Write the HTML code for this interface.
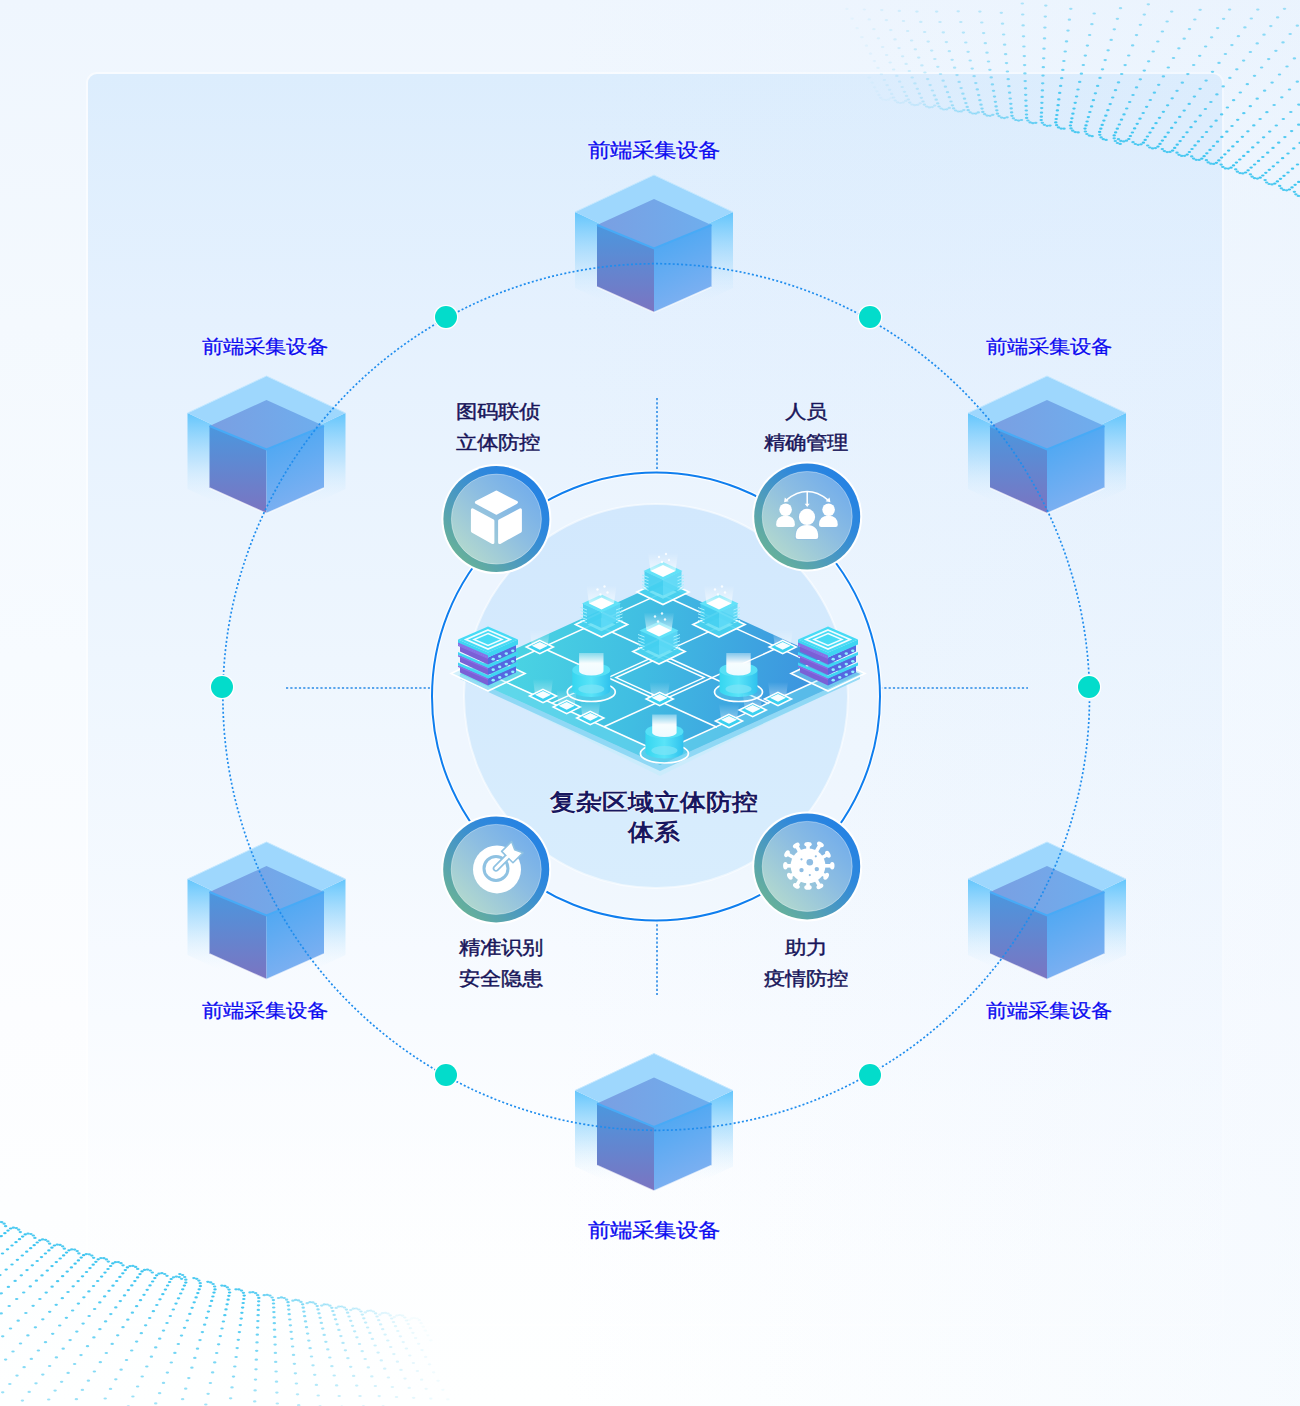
<!DOCTYPE html>
<html><head><meta charset="utf-8"><style>
html,body{margin:0;padding:0;}
body{width:1300px;height:1406px;position:relative;overflow:hidden;background:#f3f8fe;font-family:"Liberation Sans",sans-serif;}
.lbl{position:absolute;white-space:nowrap;text-align:center;transform:scaleY(0.89);transform-origin:50% 50%;}
.dev{color:#0b0bf0;font-size:22px;line-height:22px;-webkit-text-stroke:0.3px #0b0bf0;text-shadow:0 0 2px #fff,0 0 2px #fff;}
.dev.s{font-size:21px;}
.fn{color:#17155a;font-size:21px;line-height:34.8px;-webkit-text-stroke:0.5px #17155a;text-shadow:0 0 2px #fff;}
.ttl{color:#18175f;font-size:26px;line-height:33.5px;font-weight:bold;text-shadow:0 0 2px #fff,0 0 2px #fff;}
svg{position:absolute;left:0;top:0;}
</style></head><body>
<svg width="1300" height="1406" viewBox="0 0 1300 1406">
<defs>
<linearGradient id="pg" x1="0" y1="0" x2="0" y2="1">
 <stop offset="0" stop-color="#eff6fe"/><stop offset="0.23" stop-color="#f4f9fe"/><stop offset="0.47" stop-color="#f7fbff"/><stop offset="0.72" stop-color="#fcfdff"/><stop offset="1" stop-color="#feffff"/>
</linearGradient>
<linearGradient id="rtint" gradientUnits="userSpaceOnUse" x1="560" y1="0" x2="1300" y2="0">
 <stop offset="0" stop-color="#d8e9fd" stop-opacity="0"/><stop offset="1" stop-color="#d8e9fd" stop-opacity="0.2"/>
</linearGradient>
<linearGradient id="panel" x1="0" y1="0" x2="0" y2="1">
 <stop offset="0" stop-color="#dcedfd"/><stop offset="0.197" stop-color="#e5f1fe"/><stop offset="0.469" stop-color="#eef6fe"/><stop offset="0.757" stop-color="#f8fbff"/><stop offset="0.95" stop-color="#fbfdff" stop-opacity="0"/>
</linearGradient>
<linearGradient id="oSide" x1="0" y1="0" x2="0" y2="1">
 <stop offset="0" stop-color="#5cc3fc" stop-opacity="0.95"/><stop offset="0.42" stop-color="#8fd3fc" stop-opacity="0.45"/><stop offset="0.8" stop-color="#d8eefe" stop-opacity="0"/>
</linearGradient>
<linearGradient id="iTop" x1="0" y1="0" x2="1" y2="0">
 <stop offset="0" stop-color="#7a9fe2"/><stop offset="1" stop-color="#6eaeee"/>
</linearGradient>
<linearGradient id="iL" x1="0" y1="0" x2="0" y2="1">
 <stop offset="0" stop-color="#4b97de"/><stop offset="1" stop-color="#7b74c1"/>
</linearGradient>
<linearGradient id="iR" x1="0" y1="0" x2="0.3" y2="1">
 <stop offset="0" stop-color="#43a6f3"/><stop offset="1" stop-color="#7fb0f1"/>
</linearGradient>
<linearGradient id="ring" x1="1" y1="0" x2="0" y2="1">
 <stop offset="0" stop-color="#1e7ee8"/><stop offset="0.35" stop-color="#2f88dc"/><stop offset="0.62" stop-color="#4f9cbc"/><stop offset="1" stop-color="#74bd86"/>
</linearGradient>
<linearGradient id="ringIn" x1="1" y1="0" x2="0" y2="1">
 <stop offset="0" stop-color="#6aa8ee"/><stop offset="0.45" stop-color="#8cbde2"/><stop offset="1" stop-color="#bde0c9"/>
</linearGradient>
<linearGradient id="disk" x1="0" y1="0" x2="0" y2="1">
 <stop offset="0" stop-color="#d2e8fd"/><stop offset="1" stop-color="#d8edfd"/>
</linearGradient>
<g id="cube">
 <polygon points="-79,37 0,74 0,150 -79,113" fill="url(#oSide)"/>
 <polygon points="0,74 79,37 79,113 0,150" fill="url(#oSide)"/>
 <polygon points="0,0 79,37 0,74 -79,37" fill="#9ed7fd"/>
 <polyline points="-79,37 0,0 79,37" fill="none" stroke="#c4e8ff" stroke-width="1"/>
 <polygon points="0,24 57.5,50 0,73.5 -57,50" fill="url(#iTop)"/>
 <polygon points="-57,50 0,73.5 0,137.5 -57,112" fill="url(#iL)"/>
 <polygon points="0,73.5 57.5,50 57.5,112 0,137.5" fill="url(#iR)"/>
 <polyline points="-57,50 0,73.5 57.5,50" fill="none" stroke="#48aaf6" stroke-width="2"/>
 <polyline points="-57,112 0,137.5 57.5,112" fill="none" stroke="#ffffff" stroke-opacity="0.7" stroke-width="1.5"/>
</g>
</defs>
<rect width="1300" height="1406" fill="url(#pg)"/>
<rect x="87" y="73" width="1136" height="1252" rx="10" fill="none" stroke="#ffffff" stroke-opacity="0.55" stroke-width="2"/>
<rect x="88" y="74" width="1134" height="1250" rx="9" fill="url(#panel)"/>
<rect x="0" y="0" width="1300" height="1406" fill="url(#rtint)"/>

<g fill="#3ac4f0" ><ellipse cx="882.9" cy="99.5" rx="1.75" ry="1.1" opacity="0.04"/><ellipse cx="885.8" cy="100.1" rx="1.75" ry="1.1" opacity="0.04"/><ellipse cx="888.6" cy="99.6" rx="1.75" ry="1.1" opacity="0.04"/><ellipse cx="891.0" cy="97.9" rx="1.75" ry="1.1" opacity="0.04"/><ellipse cx="880.6" cy="97.8" rx="1.75" ry="1.1" opacity="0.05"/><ellipse cx="878.9" cy="94.8" rx="1.75" ry="1.1" opacity="0.05"/><ellipse cx="876.9" cy="91.3" rx="1.75" ry="1.1" opacity="0.04"/><ellipse cx="874.7" cy="87.3" rx="1.75" ry="1.1" opacity="0.04"/><ellipse cx="872.1" cy="82.7" rx="1.75" ry="1.1" opacity="0.04"/><ellipse cx="869.2" cy="77.6" rx="1.75" ry="1.1" opacity="0.04"/><ellipse cx="897.5" cy="102.3" rx="1.75" ry="1.1" opacity="0.10"/><ellipse cx="900.3" cy="103.0" rx="1.75" ry="1.1" opacity="0.10"/><ellipse cx="903.1" cy="102.5" rx="1.75" ry="1.1" opacity="0.10"/><ellipse cx="905.6" cy="100.9" rx="1.75" ry="1.1" opacity="0.10"/><ellipse cx="895.2" cy="100.5" rx="1.75" ry="1.1" opacity="0.11"/><ellipse cx="893.6" cy="97.5" rx="1.75" ry="1.1" opacity="0.10"/><ellipse cx="891.7" cy="93.9" rx="1.75" ry="1.1" opacity="0.10"/><ellipse cx="889.6" cy="89.8" rx="1.75" ry="1.1" opacity="0.10"/><ellipse cx="887.1" cy="85.2" rx="1.75" ry="1.1" opacity="0.10"/><ellipse cx="884.4" cy="80.0" rx="1.75" ry="1.1" opacity="0.09"/><ellipse cx="881.4" cy="74.2" rx="1.75" ry="1.1" opacity="0.09"/><ellipse cx="878.0" cy="67.9" rx="1.75" ry="1.1" opacity="0.09"/><ellipse cx="874.4" cy="61.1" rx="1.75" ry="1.1" opacity="0.08"/><ellipse cx="870.5" cy="53.7" rx="1.75" ry="1.1" opacity="0.08"/><ellipse cx="866.4" cy="45.7" rx="1.75" ry="1.1" opacity="0.07"/><ellipse cx="861.9" cy="37.2" rx="1.75" ry="1.1" opacity="0.07"/><ellipse cx="857.1" cy="28.2" rx="1.75" ry="1.1" opacity="0.06"/><ellipse cx="852.1" cy="18.6" rx="1.75" ry="1.1" opacity="0.06"/><ellipse cx="846.9" cy="8.9" rx="1.75" ry="1.1" opacity="0.05"/><ellipse cx="912.0" cy="104.5" rx="1.75" ry="1.1" opacity="0.15"/><ellipse cx="914.8" cy="105.2" rx="1.75" ry="1.1" opacity="0.15"/><ellipse cx="917.7" cy="104.8" rx="1.75" ry="1.1" opacity="0.15"/><ellipse cx="920.1" cy="103.3" rx="1.75" ry="1.1" opacity="0.15"/><ellipse cx="909.8" cy="102.6" rx="1.75" ry="1.1" opacity="0.17"/><ellipse cx="908.3" cy="99.5" rx="1.75" ry="1.1" opacity="0.17"/><ellipse cx="906.5" cy="95.9" rx="1.75" ry="1.1" opacity="0.17"/><ellipse cx="904.5" cy="91.8" rx="1.75" ry="1.1" opacity="0.16"/><ellipse cx="902.2" cy="87.0" rx="1.75" ry="1.1" opacity="0.16"/><ellipse cx="899.6" cy="81.7" rx="1.75" ry="1.1" opacity="0.15"/><ellipse cx="896.8" cy="75.9" rx="1.75" ry="1.1" opacity="0.15"/><ellipse cx="893.6" cy="69.5" rx="1.75" ry="1.1" opacity="0.14"/><ellipse cx="890.2" cy="62.5" rx="1.75" ry="1.1" opacity="0.13"/><ellipse cx="886.6" cy="55.0" rx="1.75" ry="1.1" opacity="0.13"/><ellipse cx="882.6" cy="47.0" rx="1.75" ry="1.1" opacity="0.12"/><ellipse cx="878.4" cy="38.3" rx="1.75" ry="1.1" opacity="0.11"/><ellipse cx="873.9" cy="29.2" rx="1.75" ry="1.1" opacity="0.10"/><ellipse cx="869.2" cy="19.4" rx="1.75" ry="1.1" opacity="0.09"/><ellipse cx="864.4" cy="9.5" rx="1.75" ry="1.1" opacity="0.08"/><ellipse cx="926.6" cy="106.5" rx="1.75" ry="1.1" opacity="0.22"/><ellipse cx="929.3" cy="107.4" rx="1.75" ry="1.1" opacity="0.22"/><ellipse cx="932.2" cy="107.1" rx="1.75" ry="1.1" opacity="0.22"/><ellipse cx="934.7" cy="105.6" rx="1.75" ry="1.1" opacity="0.22"/><ellipse cx="924.4" cy="104.6" rx="1.75" ry="1.1" opacity="0.24"/><ellipse cx="923.0" cy="101.5" rx="1.75" ry="1.1" opacity="0.24"/><ellipse cx="921.3" cy="97.8" rx="1.75" ry="1.1" opacity="0.23"/><ellipse cx="919.4" cy="93.6" rx="1.75" ry="1.1" opacity="0.23"/><ellipse cx="917.3" cy="88.8" rx="1.75" ry="1.1" opacity="0.22"/><ellipse cx="914.9" cy="83.4" rx="1.75" ry="1.1" opacity="0.21"/><ellipse cx="912.2" cy="77.5" rx="1.75" ry="1.1" opacity="0.21"/><ellipse cx="909.3" cy="71.0" rx="1.75" ry="1.1" opacity="0.20"/><ellipse cx="906.1" cy="63.9" rx="1.75" ry="1.1" opacity="0.19"/><ellipse cx="902.6" cy="56.3" rx="1.75" ry="1.1" opacity="0.18"/><ellipse cx="899.0" cy="48.1" rx="1.75" ry="1.1" opacity="0.17"/><ellipse cx="895.0" cy="39.4" rx="1.75" ry="1.1" opacity="0.15"/><ellipse cx="890.8" cy="30.1" rx="1.75" ry="1.1" opacity="0.14"/><ellipse cx="886.4" cy="20.2" rx="1.75" ry="1.1" opacity="0.13"/><ellipse cx="881.8" cy="10.1" rx="1.75" ry="1.1" opacity="0.12"/><ellipse cx="941.1" cy="108.5" rx="1.75" ry="1.1" opacity="0.29"/><ellipse cx="943.8" cy="109.5" rx="1.75" ry="1.1" opacity="0.29"/><ellipse cx="946.7" cy="109.3" rx="1.75" ry="1.1" opacity="0.29"/><ellipse cx="949.3" cy="107.9" rx="1.75" ry="1.1" opacity="0.29"/><ellipse cx="939.0" cy="106.5" rx="1.75" ry="1.1" opacity="0.32"/><ellipse cx="937.7" cy="103.4" rx="1.75" ry="1.1" opacity="0.31"/><ellipse cx="936.2" cy="99.7" rx="1.75" ry="1.1" opacity="0.31"/><ellipse cx="934.4" cy="95.4" rx="1.75" ry="1.1" opacity="0.30"/><ellipse cx="932.4" cy="90.5" rx="1.75" ry="1.1" opacity="0.29"/><ellipse cx="930.1" cy="85.1" rx="1.75" ry="1.1" opacity="0.28"/><ellipse cx="927.6" cy="79.1" rx="1.75" ry="1.1" opacity="0.27"/><ellipse cx="924.9" cy="72.5" rx="1.75" ry="1.1" opacity="0.26"/><ellipse cx="921.9" cy="65.4" rx="1.75" ry="1.1" opacity="0.25"/><ellipse cx="918.7" cy="57.6" rx="1.75" ry="1.1" opacity="0.23"/><ellipse cx="915.3" cy="49.3" rx="1.75" ry="1.1" opacity="0.22"/><ellipse cx="911.6" cy="40.5" rx="1.75" ry="1.1" opacity="0.20"/><ellipse cx="907.7" cy="31.0" rx="1.75" ry="1.1" opacity="0.19"/><ellipse cx="903.5" cy="21.0" rx="1.75" ry="1.1" opacity="0.17"/><ellipse cx="899.3" cy="10.9" rx="1.75" ry="1.1" opacity="0.15"/><ellipse cx="955.6" cy="110.5" rx="1.75" ry="1.1" opacity="0.36"/><ellipse cx="958.3" cy="111.5" rx="1.75" ry="1.1" opacity="0.36"/><ellipse cx="961.2" cy="111.4" rx="1.75" ry="1.1" opacity="0.36"/><ellipse cx="963.8" cy="110.1" rx="1.75" ry="1.1" opacity="0.36"/><ellipse cx="953.6" cy="108.4" rx="1.75" ry="1.1" opacity="0.39"/><ellipse cx="952.4" cy="105.3" rx="1.75" ry="1.1" opacity="0.39"/><ellipse cx="951.0" cy="101.5" rx="1.75" ry="1.1" opacity="0.38"/><ellipse cx="949.3" cy="97.2" rx="1.75" ry="1.1" opacity="0.37"/><ellipse cx="947.5" cy="92.2" rx="1.75" ry="1.1" opacity="0.36"/><ellipse cx="945.4" cy="86.7" rx="1.75" ry="1.1" opacity="0.35"/><ellipse cx="943.1" cy="80.7" rx="1.75" ry="1.1" opacity="0.34"/><ellipse cx="940.5" cy="74.0" rx="1.75" ry="1.1" opacity="0.32"/><ellipse cx="937.8" cy="66.8" rx="1.75" ry="1.1" opacity="0.31"/><ellipse cx="934.8" cy="59.0" rx="1.75" ry="1.1" opacity="0.29"/><ellipse cx="931.7" cy="50.6" rx="1.75" ry="1.1" opacity="0.27"/><ellipse cx="928.2" cy="41.6" rx="1.75" ry="1.1" opacity="0.25"/><ellipse cx="924.6" cy="32.0" rx="1.75" ry="1.1" opacity="0.23"/><ellipse cx="920.8" cy="21.9" rx="1.75" ry="1.1" opacity="0.21"/><ellipse cx="916.9" cy="11.6" rx="1.75" ry="1.1" opacity="0.19"/><ellipse cx="970.1" cy="112.3" rx="1.75" ry="1.1" opacity="0.43"/><ellipse cx="972.8" cy="113.5" rx="1.75" ry="1.1" opacity="0.43"/><ellipse cx="975.7" cy="113.6" rx="1.75" ry="1.1" opacity="0.43"/><ellipse cx="978.3" cy="112.4" rx="1.75" ry="1.1" opacity="0.43"/><ellipse cx="968.2" cy="110.2" rx="1.75" ry="1.1" opacity="0.48"/><ellipse cx="967.2" cy="106.9" rx="1.75" ry="1.1" opacity="0.47"/><ellipse cx="965.9" cy="103.1" rx="1.75" ry="1.1" opacity="0.46"/><ellipse cx="964.5" cy="98.7" rx="1.75" ry="1.1" opacity="0.45"/><ellipse cx="962.9" cy="93.7" rx="1.75" ry="1.1" opacity="0.43"/><ellipse cx="961.1" cy="88.1" rx="1.75" ry="1.1" opacity="0.42"/><ellipse cx="959.1" cy="81.9" rx="1.75" ry="1.1" opacity="0.40"/><ellipse cx="957.0" cy="75.1" rx="1.75" ry="1.1" opacity="0.39"/><ellipse cx="954.6" cy="67.7" rx="1.75" ry="1.1" opacity="0.37"/><ellipse cx="952.1" cy="59.8" rx="1.75" ry="1.1" opacity="0.35"/><ellipse cx="949.3" cy="51.2" rx="1.75" ry="1.1" opacity="0.33"/><ellipse cx="946.4" cy="42.1" rx="1.75" ry="1.1" opacity="0.30"/><ellipse cx="943.3" cy="32.4" rx="1.75" ry="1.1" opacity="0.28"/><ellipse cx="940.0" cy="22.0" rx="1.75" ry="1.1" opacity="0.25"/><ellipse cx="936.6" cy="11.6" rx="1.75" ry="1.1" opacity="0.23"/><ellipse cx="984.6" cy="114.2" rx="1.75" ry="1.1" opacity="0.50"/><ellipse cx="987.1" cy="115.6" rx="1.75" ry="1.1" opacity="0.50"/><ellipse cx="990.0" cy="115.8" rx="1.75" ry="1.1" opacity="0.50"/><ellipse cx="992.8" cy="114.8" rx="1.75" ry="1.1" opacity="0.50"/><ellipse cx="982.8" cy="111.9" rx="1.75" ry="1.1" opacity="0.56"/><ellipse cx="982.0" cy="108.6" rx="1.75" ry="1.1" opacity="0.55"/><ellipse cx="981.0" cy="104.7" rx="1.75" ry="1.1" opacity="0.54"/><ellipse cx="979.9" cy="100.2" rx="1.75" ry="1.1" opacity="0.52"/><ellipse cx="978.7" cy="95.1" rx="1.75" ry="1.1" opacity="0.51"/><ellipse cx="977.3" cy="89.4" rx="1.75" ry="1.1" opacity="0.49"/><ellipse cx="975.8" cy="83.1" rx="1.75" ry="1.1" opacity="0.47"/><ellipse cx="974.1" cy="76.2" rx="1.75" ry="1.1" opacity="0.45"/><ellipse cx="972.2" cy="68.6" rx="1.75" ry="1.1" opacity="0.43"/><ellipse cx="970.2" cy="60.5" rx="1.75" ry="1.1" opacity="0.41"/><ellipse cx="968.1" cy="51.8" rx="1.75" ry="1.1" opacity="0.38"/><ellipse cx="965.8" cy="42.5" rx="1.75" ry="1.1" opacity="0.36"/><ellipse cx="963.4" cy="32.6" rx="1.75" ry="1.1" opacity="0.33"/><ellipse cx="960.8" cy="22.0" rx="1.75" ry="1.1" opacity="0.30"/><ellipse cx="958.2" cy="11.3" rx="1.75" ry="1.1" opacity="0.27"/><ellipse cx="999.0" cy="116.1" rx="1.75" ry="1.1" opacity="0.58"/><ellipse cx="1001.5" cy="117.6" rx="1.75" ry="1.1" opacity="0.58"/><ellipse cx="1004.3" cy="118.1" rx="1.75" ry="1.1" opacity="0.58"/><ellipse cx="1007.1" cy="117.3" rx="1.75" ry="1.1" opacity="0.58"/><ellipse cx="997.4" cy="113.7" rx="1.75" ry="1.1" opacity="0.64"/><ellipse cx="996.8" cy="110.3" rx="1.75" ry="1.1" opacity="0.63"/><ellipse cx="996.1" cy="106.4" rx="1.75" ry="1.1" opacity="0.62"/><ellipse cx="995.4" cy="101.8" rx="1.75" ry="1.1" opacity="0.60"/><ellipse cx="994.5" cy="96.6" rx="1.75" ry="1.1" opacity="0.59"/><ellipse cx="993.5" cy="90.8" rx="1.75" ry="1.1" opacity="0.57"/><ellipse cx="992.4" cy="84.4" rx="1.75" ry="1.1" opacity="0.55"/><ellipse cx="991.2" cy="77.4" rx="1.75" ry="1.1" opacity="0.52"/><ellipse cx="989.9" cy="69.8" rx="1.75" ry="1.1" opacity="0.50"/><ellipse cx="988.5" cy="61.5" rx="1.75" ry="1.1" opacity="0.47"/><ellipse cx="987.0" cy="52.7" rx="1.75" ry="1.1" opacity="0.44"/><ellipse cx="985.3" cy="43.2" rx="1.75" ry="1.1" opacity="0.41"/><ellipse cx="983.6" cy="33.1" rx="1.75" ry="1.1" opacity="0.38"/><ellipse cx="981.8" cy="22.5" rx="1.75" ry="1.1" opacity="0.34"/><ellipse cx="979.9" cy="11.6" rx="1.75" ry="1.1" opacity="0.31"/><ellipse cx="1013.4" cy="118.3" rx="1.75" ry="1.1" opacity="0.66"/><ellipse cx="1015.8" cy="120.0" rx="1.75" ry="1.1" opacity="0.66"/><ellipse cx="1018.6" cy="120.6" rx="1.75" ry="1.1" opacity="0.66"/><ellipse cx="1021.5" cy="120.0" rx="1.75" ry="1.1" opacity="0.66"/><ellipse cx="1012.0" cy="115.8" rx="1.75" ry="1.1" opacity="0.73"/><ellipse cx="1011.6" cy="112.4" rx="1.75" ry="1.1" opacity="0.72"/><ellipse cx="1011.2" cy="108.4" rx="1.75" ry="1.1" opacity="0.70"/><ellipse cx="1010.8" cy="103.8" rx="1.75" ry="1.1" opacity="0.69"/><ellipse cx="1010.2" cy="98.5" rx="1.75" ry="1.1" opacity="0.67"/><ellipse cx="1009.6" cy="92.7" rx="1.75" ry="1.1" opacity="0.64"/><ellipse cx="1008.9" cy="86.2" rx="1.75" ry="1.1" opacity="0.62"/><ellipse cx="1008.2" cy="79.2" rx="1.75" ry="1.1" opacity="0.60"/><ellipse cx="1007.4" cy="71.5" rx="1.75" ry="1.1" opacity="0.57"/><ellipse cx="1006.5" cy="63.1" rx="1.75" ry="1.1" opacity="0.54"/><ellipse cx="1005.6" cy="54.2" rx="1.75" ry="1.1" opacity="0.50"/><ellipse cx="1004.6" cy="44.7" rx="1.75" ry="1.1" opacity="0.47"/><ellipse cx="1003.6" cy="34.5" rx="1.75" ry="1.1" opacity="0.43"/><ellipse cx="1002.5" cy="23.7" rx="1.75" ry="1.1" opacity="0.39"/><ellipse cx="1001.3" cy="12.8" rx="1.75" ry="1.1" opacity="0.35"/><ellipse cx="1027.9" cy="120.5" rx="1.75" ry="1.1" opacity="0.74"/><ellipse cx="1030.1" cy="122.4" rx="1.75" ry="1.1" opacity="0.74"/><ellipse cx="1032.9" cy="123.2" rx="1.75" ry="1.1" opacity="0.74"/><ellipse cx="1035.8" cy="122.8" rx="1.75" ry="1.1" opacity="0.74"/><ellipse cx="1026.6" cy="117.9" rx="1.75" ry="1.1" opacity="0.82"/><ellipse cx="1026.5" cy="114.5" rx="1.75" ry="1.1" opacity="0.80"/><ellipse cx="1026.3" cy="110.5" rx="1.75" ry="1.1" opacity="0.79"/><ellipse cx="1026.1" cy="105.9" rx="1.75" ry="1.1" opacity="0.77"/><ellipse cx="1025.9" cy="100.6" rx="1.75" ry="1.1" opacity="0.75"/><ellipse cx="1025.7" cy="94.8" rx="1.75" ry="1.1" opacity="0.72"/><ellipse cx="1025.5" cy="88.3" rx="1.75" ry="1.1" opacity="0.70"/><ellipse cx="1025.2" cy="81.1" rx="1.75" ry="1.1" opacity="0.67"/><ellipse cx="1024.9" cy="73.4" rx="1.75" ry="1.1" opacity="0.64"/><ellipse cx="1024.6" cy="65.1" rx="1.75" ry="1.1" opacity="0.60"/><ellipse cx="1024.3" cy="56.1" rx="1.75" ry="1.1" opacity="0.57"/><ellipse cx="1023.9" cy="46.5" rx="1.75" ry="1.1" opacity="0.53"/><ellipse cx="1023.5" cy="36.3" rx="1.75" ry="1.1" opacity="0.49"/><ellipse cx="1023.1" cy="25.4" rx="1.75" ry="1.1" opacity="0.45"/><ellipse cx="1022.7" cy="14.5" rx="1.75" ry="1.1" opacity="0.40"/><ellipse cx="1022.3" cy="3.5" rx="1.75" ry="1.1" opacity="0.36"/><ellipse cx="1042.3" cy="122.8" rx="1.75" ry="1.1" opacity="0.82"/><ellipse cx="1044.3" cy="124.8" rx="1.75" ry="1.1" opacity="0.82"/><ellipse cx="1047.1" cy="125.8" rx="1.75" ry="1.1" opacity="0.82"/><ellipse cx="1050.0" cy="125.6" rx="1.75" ry="1.1" opacity="0.82"/><ellipse cx="1041.2" cy="120.1" rx="1.75" ry="1.1" opacity="0.91"/><ellipse cx="1041.3" cy="116.7" rx="1.75" ry="1.1" opacity="0.89"/><ellipse cx="1041.5" cy="112.7" rx="1.75" ry="1.1" opacity="0.87"/><ellipse cx="1041.7" cy="108.1" rx="1.75" ry="1.1" opacity="0.85"/><ellipse cx="1041.9" cy="102.8" rx="1.75" ry="1.1" opacity="0.83"/><ellipse cx="1042.1" cy="96.9" rx="1.75" ry="1.1" opacity="0.81"/><ellipse cx="1042.4" cy="90.4" rx="1.75" ry="1.1" opacity="0.78"/><ellipse cx="1042.7" cy="83.3" rx="1.75" ry="1.1" opacity="0.75"/><ellipse cx="1043.0" cy="75.6" rx="1.75" ry="1.1" opacity="0.71"/><ellipse cx="1043.3" cy="67.2" rx="1.75" ry="1.1" opacity="0.68"/><ellipse cx="1043.7" cy="58.3" rx="1.75" ry="1.1" opacity="0.64"/><ellipse cx="1044.0" cy="48.7" rx="1.75" ry="1.1" opacity="0.59"/><ellipse cx="1044.5" cy="38.4" rx="1.75" ry="1.1" opacity="0.55"/><ellipse cx="1044.9" cy="27.6" rx="1.75" ry="1.1" opacity="0.50"/><ellipse cx="1045.3" cy="16.6" rx="1.75" ry="1.1" opacity="0.45"/><ellipse cx="1045.8" cy="5.6" rx="1.75" ry="1.1" opacity="0.41"/><ellipse cx="1056.6" cy="125.2" rx="1.75" ry="1.1" opacity="0.90"/><ellipse cx="1058.5" cy="127.4" rx="1.75" ry="1.1" opacity="0.90"/><ellipse cx="1061.1" cy="128.6" rx="1.75" ry="1.1" opacity="0.90"/><ellipse cx="1064.0" cy="128.7" rx="1.75" ry="1.1" opacity="0.90"/><ellipse cx="1055.8" cy="122.4" rx="1.75" ry="1.1" opacity="1.00"/><ellipse cx="1056.2" cy="119.0" rx="1.75" ry="1.1" opacity="0.98"/><ellipse cx="1056.8" cy="115.0" rx="1.75" ry="1.1" opacity="0.96"/><ellipse cx="1057.4" cy="110.4" rx="1.75" ry="1.1" opacity="0.94"/><ellipse cx="1058.1" cy="105.2" rx="1.75" ry="1.1" opacity="0.92"/><ellipse cx="1058.8" cy="99.4" rx="1.75" ry="1.1" opacity="0.89"/><ellipse cx="1059.7" cy="92.9" rx="1.75" ry="1.1" opacity="0.86"/><ellipse cx="1060.6" cy="85.9" rx="1.75" ry="1.1" opacity="0.83"/><ellipse cx="1061.7" cy="78.2" rx="1.75" ry="1.1" opacity="0.79"/><ellipse cx="1062.8" cy="69.9" rx="1.75" ry="1.1" opacity="0.75"/><ellipse cx="1063.9" cy="61.0" rx="1.75" ry="1.1" opacity="0.71"/><ellipse cx="1065.2" cy="51.5" rx="1.75" ry="1.1" opacity="0.66"/><ellipse cx="1066.5" cy="41.4" rx="1.75" ry="1.1" opacity="0.62"/><ellipse cx="1068.0" cy="30.6" rx="1.75" ry="1.1" opacity="0.56"/><ellipse cx="1069.4" cy="19.7" rx="1.75" ry="1.1" opacity="0.51"/><ellipse cx="1070.8" cy="8.8" rx="1.75" ry="1.1" opacity="0.46"/><ellipse cx="1071.0" cy="128.4" rx="1.75" ry="1.1" opacity="0.90"/><ellipse cx="1072.7" cy="130.7" rx="1.75" ry="1.1" opacity="0.90"/><ellipse cx="1075.2" cy="132.1" rx="1.75" ry="1.1" opacity="0.90"/><ellipse cx="1078.1" cy="132.4" rx="1.75" ry="1.1" opacity="0.90"/><ellipse cx="1070.4" cy="125.5" rx="1.75" ry="1.1" opacity="1.00"/><ellipse cx="1071.1" cy="122.2" rx="1.75" ry="1.1" opacity="0.98"/><ellipse cx="1071.9" cy="118.3" rx="1.75" ry="1.1" opacity="0.97"/><ellipse cx="1072.9" cy="113.7" rx="1.75" ry="1.1" opacity="0.95"/><ellipse cx="1074.0" cy="108.6" rx="1.75" ry="1.1" opacity="0.92"/><ellipse cx="1075.2" cy="102.8" rx="1.75" ry="1.1" opacity="0.90"/><ellipse cx="1076.6" cy="96.5" rx="1.75" ry="1.1" opacity="0.87"/><ellipse cx="1078.0" cy="89.5" rx="1.75" ry="1.1" opacity="0.83"/><ellipse cx="1079.7" cy="81.9" rx="1.75" ry="1.1" opacity="0.80"/><ellipse cx="1081.4" cy="73.7" rx="1.75" ry="1.1" opacity="0.76"/><ellipse cx="1083.3" cy="65.0" rx="1.75" ry="1.1" opacity="0.72"/><ellipse cx="1085.3" cy="55.6" rx="1.75" ry="1.1" opacity="0.68"/><ellipse cx="1087.4" cy="45.6" rx="1.75" ry="1.1" opacity="0.63"/><ellipse cx="1089.6" cy="35.0" rx="1.75" ry="1.1" opacity="0.58"/><ellipse cx="1091.9" cy="24.2" rx="1.75" ry="1.1" opacity="0.53"/><ellipse cx="1094.2" cy="13.5" rx="1.75" ry="1.1" opacity="0.48"/><ellipse cx="1085.4" cy="131.5" rx="1.75" ry="1.1" opacity="0.90"/><ellipse cx="1086.9" cy="134.0" rx="1.75" ry="1.1" opacity="0.90"/><ellipse cx="1089.3" cy="135.6" rx="1.75" ry="1.1" opacity="0.90"/><ellipse cx="1092.1" cy="136.2" rx="1.75" ry="1.1" opacity="0.90"/><ellipse cx="1085.0" cy="128.6" rx="1.75" ry="1.1" opacity="1.00"/><ellipse cx="1086.0" cy="125.4" rx="1.75" ry="1.1" opacity="0.99"/><ellipse cx="1087.1" cy="121.5" rx="1.75" ry="1.1" opacity="0.97"/><ellipse cx="1088.4" cy="117.1" rx="1.75" ry="1.1" opacity="0.95"/><ellipse cx="1089.9" cy="112.0" rx="1.75" ry="1.1" opacity="0.93"/><ellipse cx="1091.6" cy="106.4" rx="1.75" ry="1.1" opacity="0.90"/><ellipse cx="1093.4" cy="100.2" rx="1.75" ry="1.1" opacity="0.87"/><ellipse cx="1095.4" cy="93.3" rx="1.75" ry="1.1" opacity="0.84"/><ellipse cx="1097.6" cy="85.9" rx="1.75" ry="1.1" opacity="0.81"/><ellipse cx="1100.0" cy="77.9" rx="1.75" ry="1.1" opacity="0.77"/><ellipse cx="1102.5" cy="69.3" rx="1.75" ry="1.1" opacity="0.73"/><ellipse cx="1105.2" cy="60.1" rx="1.75" ry="1.1" opacity="0.69"/><ellipse cx="1108.1" cy="50.3" rx="1.75" ry="1.1" opacity="0.65"/><ellipse cx="1111.2" cy="39.9" rx="1.75" ry="1.1" opacity="0.60"/><ellipse cx="1114.3" cy="29.3" rx="1.75" ry="1.1" opacity="0.55"/><ellipse cx="1117.4" cy="18.8" rx="1.75" ry="1.1" opacity="0.50"/><ellipse cx="1120.5" cy="8.2" rx="1.75" ry="1.1" opacity="0.46"/><ellipse cx="1099.8" cy="134.8" rx="1.75" ry="1.1" opacity="0.90"/><ellipse cx="1101.1" cy="137.4" rx="1.75" ry="1.1" opacity="0.90"/><ellipse cx="1103.3" cy="139.2" rx="1.75" ry="1.1" opacity="0.90"/><ellipse cx="1106.1" cy="139.9" rx="1.75" ry="1.1" opacity="0.90"/><ellipse cx="1099.6" cy="131.9" rx="1.75" ry="1.1" opacity="1.00"/><ellipse cx="1100.8" cy="128.7" rx="1.75" ry="1.1" opacity="0.99"/><ellipse cx="1102.2" cy="124.9" rx="1.75" ry="1.1" opacity="0.97"/><ellipse cx="1103.9" cy="120.6" rx="1.75" ry="1.1" opacity="0.95"/><ellipse cx="1105.8" cy="115.7" rx="1.75" ry="1.1" opacity="0.93"/><ellipse cx="1107.9" cy="110.2" rx="1.75" ry="1.1" opacity="0.90"/><ellipse cx="1110.2" cy="104.1" rx="1.75" ry="1.1" opacity="0.88"/><ellipse cx="1112.7" cy="97.5" rx="1.75" ry="1.1" opacity="0.85"/><ellipse cx="1115.5" cy="90.2" rx="1.75" ry="1.1" opacity="0.82"/><ellipse cx="1118.5" cy="82.4" rx="1.75" ry="1.1" opacity="0.78"/><ellipse cx="1121.7" cy="74.0" rx="1.75" ry="1.1" opacity="0.75"/><ellipse cx="1125.1" cy="65.1" rx="1.75" ry="1.1" opacity="0.71"/><ellipse cx="1128.7" cy="55.5" rx="1.75" ry="1.1" opacity="0.66"/><ellipse cx="1132.6" cy="45.4" rx="1.75" ry="1.1" opacity="0.62"/><ellipse cx="1136.5" cy="35.1" rx="1.75" ry="1.1" opacity="0.57"/><ellipse cx="1140.4" cy="24.8" rx="1.75" ry="1.1" opacity="0.53"/><ellipse cx="1144.3" cy="14.6" rx="1.75" ry="1.1" opacity="0.48"/><ellipse cx="1148.3" cy="4.3" rx="1.75" ry="1.1" opacity="0.44"/><ellipse cx="1114.2" cy="138.3" rx="1.75" ry="1.1" opacity="0.90"/><ellipse cx="1115.3" cy="141.0" rx="1.75" ry="1.1" opacity="0.90"/><ellipse cx="1117.4" cy="143.0" rx="1.75" ry="1.1" opacity="0.90"/><ellipse cx="1120.2" cy="143.9" rx="1.75" ry="1.1" opacity="0.90"/><ellipse cx="1114.2" cy="135.4" rx="1.75" ry="1.1" opacity="1.00"/><ellipse cx="1115.6" cy="132.4" rx="1.75" ry="1.1" opacity="0.99"/><ellipse cx="1117.3" cy="128.7" rx="1.75" ry="1.1" opacity="0.97"/><ellipse cx="1119.3" cy="124.5" rx="1.75" ry="1.1" opacity="0.95"/><ellipse cx="1121.5" cy="119.7" rx="1.75" ry="1.1" opacity="0.93"/><ellipse cx="1124.0" cy="114.4" rx="1.75" ry="1.1" opacity="0.91"/><ellipse cx="1126.7" cy="108.5" rx="1.75" ry="1.1" opacity="0.88"/><ellipse cx="1129.7" cy="102.0" rx="1.75" ry="1.1" opacity="0.86"/><ellipse cx="1133.0" cy="95.0" rx="1.75" ry="1.1" opacity="0.83"/><ellipse cx="1136.5" cy="87.4" rx="1.75" ry="1.1" opacity="0.79"/><ellipse cx="1140.3" cy="79.3" rx="1.75" ry="1.1" opacity="0.76"/><ellipse cx="1144.3" cy="70.6" rx="1.75" ry="1.1" opacity="0.72"/><ellipse cx="1148.6" cy="61.3" rx="1.75" ry="1.1" opacity="0.68"/><ellipse cx="1153.2" cy="51.5" rx="1.75" ry="1.1" opacity="0.64"/><ellipse cx="1157.8" cy="41.5" rx="1.75" ry="1.1" opacity="0.60"/><ellipse cx="1162.4" cy="31.5" rx="1.75" ry="1.1" opacity="0.56"/><ellipse cx="1167.1" cy="21.5" rx="1.75" ry="1.1" opacity="0.51"/><ellipse cx="1171.7" cy="11.6" rx="1.75" ry="1.1" opacity="0.47"/><ellipse cx="1126.5" cy="140.7" rx="1.75" ry="1.1" opacity="0.90"/><ellipse cx="1123.7" cy="141.4" rx="1.75" ry="1.1" opacity="0.90"/><ellipse cx="1120.8" cy="140.9" rx="1.75" ry="1.1" opacity="0.90"/><ellipse cx="1118.4" cy="139.2" rx="1.75" ry="1.1" opacity="0.90"/><ellipse cx="1128.8" cy="139.0" rx="1.75" ry="1.1" opacity="1.00"/><ellipse cx="1130.4" cy="136.0" rx="1.75" ry="1.1" opacity="0.99"/><ellipse cx="1132.4" cy="132.5" rx="1.75" ry="1.1" opacity="0.97"/><ellipse cx="1134.6" cy="128.4" rx="1.75" ry="1.1" opacity="0.96"/><ellipse cx="1137.2" cy="123.8" rx="1.75" ry="1.1" opacity="0.94"/><ellipse cx="1140.0" cy="118.7" rx="1.75" ry="1.1" opacity="0.92"/><ellipse cx="1143.2" cy="113.0" rx="1.75" ry="1.1" opacity="0.89"/><ellipse cx="1146.6" cy="106.8" rx="1.75" ry="1.1" opacity="0.87"/><ellipse cx="1150.3" cy="100.0" rx="1.75" ry="1.1" opacity="0.84"/><ellipse cx="1154.4" cy="92.7" rx="1.75" ry="1.1" opacity="0.81"/><ellipse cx="1158.7" cy="84.8" rx="1.75" ry="1.1" opacity="0.77"/><ellipse cx="1163.4" cy="76.4" rx="1.75" ry="1.1" opacity="0.74"/><ellipse cx="1168.3" cy="67.5" rx="1.75" ry="1.1" opacity="0.70"/><ellipse cx="1173.5" cy="58.0" rx="1.75" ry="1.1" opacity="0.66"/><ellipse cx="1178.9" cy="48.3" rx="1.75" ry="1.1" opacity="0.62"/><ellipse cx="1184.2" cy="38.7" rx="1.75" ry="1.1" opacity="0.58"/><ellipse cx="1189.5" cy="29.1" rx="1.75" ry="1.1" opacity="0.54"/><ellipse cx="1194.8" cy="19.5" rx="1.75" ry="1.1" opacity="0.50"/><ellipse cx="1200.1" cy="9.8" rx="1.75" ry="1.1" opacity="0.46"/><ellipse cx="1141.0" cy="144.3" rx="1.75" ry="1.1" opacity="0.90"/><ellipse cx="1138.1" cy="144.8" rx="1.75" ry="1.1" opacity="0.90"/><ellipse cx="1135.3" cy="144.0" rx="1.75" ry="1.1" opacity="0.90"/><ellipse cx="1133.0" cy="142.2" rx="1.75" ry="1.1" opacity="0.90"/><ellipse cx="1143.4" cy="142.7" rx="1.75" ry="1.1" opacity="1.00"/><ellipse cx="1145.2" cy="139.9" rx="1.75" ry="1.1" opacity="0.99"/><ellipse cx="1147.4" cy="136.5" rx="1.75" ry="1.1" opacity="0.97"/><ellipse cx="1150.0" cy="132.6" rx="1.75" ry="1.1" opacity="0.96"/><ellipse cx="1152.8" cy="128.2" rx="1.75" ry="1.1" opacity="0.94"/><ellipse cx="1156.0" cy="123.2" rx="1.75" ry="1.1" opacity="0.92"/><ellipse cx="1159.5" cy="117.8" rx="1.75" ry="1.1" opacity="0.90"/><ellipse cx="1163.4" cy="111.8" rx="1.75" ry="1.1" opacity="0.87"/><ellipse cx="1167.6" cy="105.3" rx="1.75" ry="1.1" opacity="0.85"/><ellipse cx="1172.2" cy="98.3" rx="1.75" ry="1.1" opacity="0.82"/><ellipse cx="1177.0" cy="90.8" rx="1.75" ry="1.1" opacity="0.79"/><ellipse cx="1182.3" cy="82.7" rx="1.75" ry="1.1" opacity="0.76"/><ellipse cx="1187.8" cy="74.1" rx="1.75" ry="1.1" opacity="0.72"/><ellipse cx="1193.7" cy="65.0" rx="1.75" ry="1.1" opacity="0.68"/><ellipse cx="1199.7" cy="55.8" rx="1.75" ry="1.1" opacity="0.65"/><ellipse cx="1205.6" cy="46.5" rx="1.75" ry="1.1" opacity="0.61"/><ellipse cx="1211.6" cy="37.3" rx="1.75" ry="1.1" opacity="0.57"/><ellipse cx="1217.6" cy="28.1" rx="1.75" ry="1.1" opacity="0.53"/><ellipse cx="1223.6" cy="18.8" rx="1.75" ry="1.1" opacity="0.50"/><ellipse cx="1229.6" cy="9.6" rx="1.75" ry="1.1" opacity="0.46"/><ellipse cx="1155.5" cy="148.1" rx="1.75" ry="1.1" opacity="0.90"/><ellipse cx="1152.6" cy="148.4" rx="1.75" ry="1.1" opacity="0.90"/><ellipse cx="1149.8" cy="147.5" rx="1.75" ry="1.1" opacity="0.90"/><ellipse cx="1147.7" cy="145.5" rx="1.75" ry="1.1" opacity="0.90"/><ellipse cx="1158.0" cy="146.6" rx="1.75" ry="1.1" opacity="1.00"/><ellipse cx="1160.0" cy="143.9" rx="1.75" ry="1.1" opacity="0.99"/><ellipse cx="1162.4" cy="140.6" rx="1.75" ry="1.1" opacity="0.98"/><ellipse cx="1165.1" cy="136.9" rx="1.75" ry="1.1" opacity="0.96"/><ellipse cx="1168.2" cy="132.6" rx="1.75" ry="1.1" opacity="0.94"/><ellipse cx="1171.7" cy="127.9" rx="1.75" ry="1.1" opacity="0.93"/><ellipse cx="1175.5" cy="122.6" rx="1.75" ry="1.1" opacity="0.91"/><ellipse cx="1179.7" cy="116.9" rx="1.75" ry="1.1" opacity="0.88"/><ellipse cx="1184.2" cy="110.6" rx="1.75" ry="1.1" opacity="0.86"/><ellipse cx="1189.2" cy="103.9" rx="1.75" ry="1.1" opacity="0.83"/><ellipse cx="1194.4" cy="96.6" rx="1.75" ry="1.1" opacity="0.80"/><ellipse cx="1200.1" cy="88.8" rx="1.75" ry="1.1" opacity="0.77"/><ellipse cx="1206.1" cy="80.6" rx="1.75" ry="1.1" opacity="0.74"/><ellipse cx="1212.5" cy="71.8" rx="1.75" ry="1.1" opacity="0.70"/><ellipse cx="1219.0" cy="62.9" rx="1.75" ry="1.1" opacity="0.67"/><ellipse cx="1225.4" cy="54.0" rx="1.75" ry="1.1" opacity="0.63"/><ellipse cx="1231.9" cy="45.1" rx="1.75" ry="1.1" opacity="0.60"/><ellipse cx="1238.4" cy="36.2" rx="1.75" ry="1.1" opacity="0.56"/><ellipse cx="1244.9" cy="27.4" rx="1.75" ry="1.1" opacity="0.53"/><ellipse cx="1251.3" cy="18.5" rx="1.75" ry="1.1" opacity="0.49"/><ellipse cx="1257.8" cy="9.6" rx="1.75" ry="1.1" opacity="0.46"/><ellipse cx="1170.0" cy="151.9" rx="1.75" ry="1.1" opacity="0.90"/><ellipse cx="1167.1" cy="152.1" rx="1.75" ry="1.1" opacity="0.90"/><ellipse cx="1164.4" cy="151.1" rx="1.75" ry="1.1" opacity="0.90"/><ellipse cx="1162.3" cy="149.1" rx="1.75" ry="1.1" opacity="0.90"/><ellipse cx="1172.6" cy="150.6" rx="1.75" ry="1.1" opacity="1.00"/><ellipse cx="1174.7" cy="147.9" rx="1.75" ry="1.1" opacity="0.99"/><ellipse cx="1177.2" cy="144.7" rx="1.75" ry="1.1" opacity="0.98"/><ellipse cx="1180.1" cy="141.1" rx="1.75" ry="1.1" opacity="0.96"/><ellipse cx="1183.3" cy="137.0" rx="1.75" ry="1.1" opacity="0.95"/><ellipse cx="1187.0" cy="132.3" rx="1.75" ry="1.1" opacity="0.93"/><ellipse cx="1191.0" cy="127.2" rx="1.75" ry="1.1" opacity="0.91"/><ellipse cx="1195.4" cy="121.6" rx="1.75" ry="1.1" opacity="0.89"/><ellipse cx="1200.2" cy="115.6" rx="1.75" ry="1.1" opacity="0.87"/><ellipse cx="1205.4" cy="109.0" rx="1.75" ry="1.1" opacity="0.84"/><ellipse cx="1210.9" cy="102.0" rx="1.75" ry="1.1" opacity="0.81"/><ellipse cx="1216.9" cy="94.4" rx="1.75" ry="1.1" opacity="0.78"/><ellipse cx="1223.2" cy="86.4" rx="1.75" ry="1.1" opacity="0.75"/><ellipse cx="1229.9" cy="77.9" rx="1.75" ry="1.1" opacity="0.72"/><ellipse cx="1236.8" cy="69.3" rx="1.75" ry="1.1" opacity="0.69"/><ellipse cx="1243.6" cy="60.6" rx="1.75" ry="1.1" opacity="0.65"/><ellipse cx="1250.4" cy="52.0" rx="1.75" ry="1.1" opacity="0.62"/><ellipse cx="1257.2" cy="43.4" rx="1.75" ry="1.1" opacity="0.59"/><ellipse cx="1264.0" cy="34.7" rx="1.75" ry="1.1" opacity="0.55"/><ellipse cx="1270.8" cy="26.1" rx="1.75" ry="1.1" opacity="0.52"/><ellipse cx="1277.6" cy="17.4" rx="1.75" ry="1.1" opacity="0.49"/><ellipse cx="1284.5" cy="8.8" rx="1.75" ry="1.1" opacity="0.45"/><ellipse cx="1184.6" cy="155.8" rx="1.75" ry="1.1" opacity="0.90"/><ellipse cx="1181.7" cy="155.9" rx="1.75" ry="1.1" opacity="0.90"/><ellipse cx="1179.0" cy="154.8" rx="1.75" ry="1.1" opacity="0.90"/><ellipse cx="1177.0" cy="152.7" rx="1.75" ry="1.1" opacity="0.90"/><ellipse cx="1187.2" cy="154.6" rx="1.75" ry="1.1" opacity="1.00"/><ellipse cx="1189.4" cy="152.0" rx="1.75" ry="1.1" opacity="0.99"/><ellipse cx="1192.0" cy="149.0" rx="1.75" ry="1.1" opacity="0.98"/><ellipse cx="1195.0" cy="145.4" rx="1.75" ry="1.1" opacity="0.97"/><ellipse cx="1198.4" cy="141.4" rx="1.75" ry="1.1" opacity="0.95"/><ellipse cx="1202.3" cy="137.0" rx="1.75" ry="1.1" opacity="0.93"/><ellipse cx="1206.5" cy="132.0" rx="1.75" ry="1.1" opacity="0.92"/><ellipse cx="1211.1" cy="126.6" rx="1.75" ry="1.1" opacity="0.89"/><ellipse cx="1216.1" cy="120.7" rx="1.75" ry="1.1" opacity="0.87"/><ellipse cx="1221.6" cy="114.4" rx="1.75" ry="1.1" opacity="0.85"/><ellipse cx="1227.4" cy="107.5" rx="1.75" ry="1.1" opacity="0.82"/><ellipse cx="1233.6" cy="100.2" rx="1.75" ry="1.1" opacity="0.80"/><ellipse cx="1240.3" cy="92.5" rx="1.75" ry="1.1" opacity="0.77"/><ellipse cx="1247.3" cy="84.2" rx="1.75" ry="1.1" opacity="0.74"/><ellipse cx="1254.5" cy="75.8" rx="1.75" ry="1.1" opacity="0.70"/><ellipse cx="1261.6" cy="67.5" rx="1.75" ry="1.1" opacity="0.67"/><ellipse cx="1268.7" cy="59.1" rx="1.75" ry="1.1" opacity="0.64"/><ellipse cx="1275.9" cy="50.8" rx="1.75" ry="1.1" opacity="0.61"/><ellipse cx="1283.0" cy="42.4" rx="1.75" ry="1.1" opacity="0.58"/><ellipse cx="1290.2" cy="34.0" rx="1.75" ry="1.1" opacity="0.55"/><ellipse cx="1297.3" cy="25.7" rx="1.75" ry="1.1" opacity="0.52"/><ellipse cx="1199.1" cy="159.9" rx="1.75" ry="1.1" opacity="0.90"/><ellipse cx="1196.2" cy="159.8" rx="1.75" ry="1.1" opacity="0.90"/><ellipse cx="1193.6" cy="158.6" rx="1.75" ry="1.1" opacity="0.90"/><ellipse cx="1191.7" cy="156.4" rx="1.75" ry="1.1" opacity="0.90"/><ellipse cx="1201.8" cy="158.7" rx="1.75" ry="1.1" opacity="1.00"/><ellipse cx="1204.1" cy="156.2" rx="1.75" ry="1.1" opacity="0.99"/><ellipse cx="1206.8" cy="153.3" rx="1.75" ry="1.1" opacity="0.98"/><ellipse cx="1210.0" cy="149.9" rx="1.75" ry="1.1" opacity="0.97"/><ellipse cx="1213.5" cy="146.0" rx="1.75" ry="1.1" opacity="0.95"/><ellipse cx="1217.5" cy="141.7" rx="1.75" ry="1.1" opacity="0.94"/><ellipse cx="1221.9" cy="136.9" rx="1.75" ry="1.1" opacity="0.92"/><ellipse cx="1226.8" cy="131.7" rx="1.75" ry="1.1" opacity="0.90"/><ellipse cx="1232.0" cy="126.0" rx="1.75" ry="1.1" opacity="0.88"/><ellipse cx="1237.7" cy="119.8" rx="1.75" ry="1.1" opacity="0.86"/><ellipse cx="1243.8" cy="113.2" rx="1.75" ry="1.1" opacity="0.83"/><ellipse cx="1250.3" cy="106.2" rx="1.75" ry="1.1" opacity="0.81"/><ellipse cx="1257.2" cy="98.7" rx="1.75" ry="1.1" opacity="0.78"/><ellipse cx="1264.6" cy="90.7" rx="1.75" ry="1.1" opacity="0.75"/><ellipse cx="1272.1" cy="82.6" rx="1.75" ry="1.1" opacity="0.72"/><ellipse cx="1279.5" cy="74.5" rx="1.75" ry="1.1" opacity="0.69"/><ellipse cx="1287.0" cy="66.5" rx="1.75" ry="1.1" opacity="0.66"/><ellipse cx="1294.4" cy="58.4" rx="1.75" ry="1.1" opacity="0.63"/><ellipse cx="1301.9" cy="50.3" rx="1.75" ry="1.1" opacity="0.60"/><ellipse cx="1213.7" cy="163.9" rx="1.75" ry="1.1" opacity="0.90"/><ellipse cx="1210.8" cy="163.7" rx="1.75" ry="1.1" opacity="0.90"/><ellipse cx="1208.2" cy="162.4" rx="1.75" ry="1.1" opacity="0.90"/><ellipse cx="1206.4" cy="160.2" rx="1.75" ry="1.1" opacity="0.90"/><ellipse cx="1216.4" cy="162.8" rx="1.75" ry="1.1" opacity="1.00"/><ellipse cx="1218.8" cy="160.4" rx="1.75" ry="1.1" opacity="0.99"/><ellipse cx="1221.6" cy="157.6" rx="1.75" ry="1.1" opacity="0.98"/><ellipse cx="1224.9" cy="154.3" rx="1.75" ry="1.1" opacity="0.97"/><ellipse cx="1228.6" cy="150.6" rx="1.75" ry="1.1" opacity="0.96"/><ellipse cx="1232.8" cy="146.4" rx="1.75" ry="1.1" opacity="0.94"/><ellipse cx="1237.4" cy="141.8" rx="1.75" ry="1.1" opacity="0.93"/><ellipse cx="1242.4" cy="136.8" rx="1.75" ry="1.1" opacity="0.91"/><ellipse cx="1247.9" cy="131.3" rx="1.75" ry="1.1" opacity="0.89"/><ellipse cx="1253.8" cy="125.4" rx="1.75" ry="1.1" opacity="0.87"/><ellipse cx="1260.1" cy="119.0" rx="1.75" ry="1.1" opacity="0.84"/><ellipse cx="1266.9" cy="112.2" rx="1.75" ry="1.1" opacity="0.82"/><ellipse cx="1274.1" cy="105.0" rx="1.75" ry="1.1" opacity="0.79"/><ellipse cx="1281.8" cy="97.3" rx="1.75" ry="1.1" opacity="0.77"/><ellipse cx="1289.5" cy="89.5" rx="1.75" ry="1.1" opacity="0.74"/><ellipse cx="1297.3" cy="81.7" rx="1.75" ry="1.1" opacity="0.71"/><ellipse cx="1228.3" cy="168.6" rx="1.75" ry="1.1" opacity="0.90"/><ellipse cx="1225.4" cy="168.4" rx="1.75" ry="1.1" opacity="0.90"/><ellipse cx="1222.8" cy="166.9" rx="1.75" ry="1.1" opacity="0.90"/><ellipse cx="1221.1" cy="164.6" rx="1.75" ry="1.1" opacity="0.90"/><ellipse cx="1231.0" cy="167.7" rx="1.75" ry="1.1" opacity="1.00"/><ellipse cx="1233.5" cy="165.4" rx="1.75" ry="1.1" opacity="0.99"/><ellipse cx="1236.4" cy="162.6" rx="1.75" ry="1.1" opacity="0.98"/><ellipse cx="1239.8" cy="159.5" rx="1.75" ry="1.1" opacity="0.97"/><ellipse cx="1243.7" cy="155.9" rx="1.75" ry="1.1" opacity="0.96"/><ellipse cx="1248.0" cy="151.9" rx="1.75" ry="1.1" opacity="0.95"/><ellipse cx="1252.7" cy="147.4" rx="1.75" ry="1.1" opacity="0.93"/><ellipse cx="1258.0" cy="142.6" rx="1.75" ry="1.1" opacity="0.91"/><ellipse cx="1263.6" cy="137.3" rx="1.75" ry="1.1" opacity="0.89"/><ellipse cx="1269.7" cy="131.6" rx="1.75" ry="1.1" opacity="0.88"/><ellipse cx="1276.3" cy="125.5" rx="1.75" ry="1.1" opacity="0.85"/><ellipse cx="1283.3" cy="119.0" rx="1.75" ry="1.1" opacity="0.83"/><ellipse cx="1290.8" cy="112.0" rx="1.75" ry="1.1" opacity="0.81"/><ellipse cx="1298.8" cy="104.6" rx="1.75" ry="1.1" opacity="0.78"/><ellipse cx="1242.8" cy="173.4" rx="1.75" ry="1.1" opacity="0.90"/><ellipse cx="1240.0" cy="173.1" rx="1.75" ry="1.1" opacity="0.90"/><ellipse cx="1237.4" cy="171.7" rx="1.75" ry="1.1" opacity="0.90"/><ellipse cx="1235.7" cy="169.3" rx="1.75" ry="1.1" opacity="0.90"/><ellipse cx="1245.6" cy="172.5" rx="1.75" ry="1.1" opacity="1.00"/><ellipse cx="1248.1" cy="170.3" rx="1.75" ry="1.1" opacity="0.99"/><ellipse cx="1251.1" cy="167.6" rx="1.75" ry="1.1" opacity="0.98"/><ellipse cx="1254.6" cy="164.5" rx="1.75" ry="1.1" opacity="0.97"/><ellipse cx="1258.5" cy="160.9" rx="1.75" ry="1.1" opacity="0.96"/><ellipse cx="1262.8" cy="157.0" rx="1.75" ry="1.1" opacity="0.95"/><ellipse cx="1267.7" cy="152.7" rx="1.75" ry="1.1" opacity="0.93"/><ellipse cx="1273.0" cy="147.9" rx="1.75" ry="1.1" opacity="0.92"/><ellipse cx="1278.7" cy="142.7" rx="1.75" ry="1.1" opacity="0.90"/><ellipse cx="1284.9" cy="137.1" rx="1.75" ry="1.1" opacity="0.88"/><ellipse cx="1291.6" cy="131.1" rx="1.75" ry="1.1" opacity="0.86"/><ellipse cx="1298.7" cy="124.7" rx="1.75" ry="1.1" opacity="0.84"/><ellipse cx="1257.4" cy="178.6" rx="1.75" ry="1.1" opacity="0.90"/><ellipse cx="1254.5" cy="178.2" rx="1.75" ry="1.1" opacity="0.90"/><ellipse cx="1252.1" cy="176.7" rx="1.75" ry="1.1" opacity="0.90"/><ellipse cx="1250.4" cy="174.3" rx="1.75" ry="1.1" opacity="0.90"/><ellipse cx="1260.2" cy="177.7" rx="1.75" ry="1.1" opacity="1.00"/><ellipse cx="1262.8" cy="175.5" rx="1.75" ry="1.1" opacity="0.99"/><ellipse cx="1265.8" cy="172.8" rx="1.75" ry="1.1" opacity="0.98"/><ellipse cx="1269.3" cy="169.8" rx="1.75" ry="1.1" opacity="0.97"/><ellipse cx="1273.3" cy="166.3" rx="1.75" ry="1.1" opacity="0.96"/><ellipse cx="1277.7" cy="162.5" rx="1.75" ry="1.1" opacity="0.95"/><ellipse cx="1282.6" cy="158.2" rx="1.75" ry="1.1" opacity="0.94"/><ellipse cx="1288.0" cy="153.5" rx="1.75" ry="1.1" opacity="0.92"/><ellipse cx="1293.8" cy="148.4" rx="1.75" ry="1.1" opacity="0.90"/><ellipse cx="1300.1" cy="142.9" rx="1.75" ry="1.1" opacity="0.89"/><ellipse cx="1272.0" cy="184.4" rx="1.75" ry="1.1" opacity="0.90"/><ellipse cx="1269.1" cy="184.0" rx="1.75" ry="1.1" opacity="0.90"/><ellipse cx="1266.7" cy="182.5" rx="1.75" ry="1.1" opacity="0.90"/><ellipse cx="1265.1" cy="180.1" rx="1.75" ry="1.1" opacity="0.90"/><ellipse cx="1274.8" cy="183.6" rx="1.75" ry="1.1" opacity="1.00"/><ellipse cx="1277.4" cy="181.4" rx="1.75" ry="1.1" opacity="0.99"/><ellipse cx="1280.5" cy="178.8" rx="1.75" ry="1.1" opacity="0.98"/><ellipse cx="1284.0" cy="175.8" rx="1.75" ry="1.1" opacity="0.98"/><ellipse cx="1288.0" cy="172.5" rx="1.75" ry="1.1" opacity="0.96"/><ellipse cx="1292.5" cy="168.7" rx="1.75" ry="1.1" opacity="0.95"/><ellipse cx="1297.5" cy="164.5" rx="1.75" ry="1.1" opacity="0.94"/><ellipse cx="1286.6" cy="190.3" rx="1.75" ry="1.1" opacity="0.90"/><ellipse cx="1283.7" cy="189.9" rx="1.75" ry="1.1" opacity="0.90"/><ellipse cx="1281.3" cy="188.3" rx="1.75" ry="1.1" opacity="0.90"/><ellipse cx="1279.7" cy="185.9" rx="1.75" ry="1.1" opacity="0.90"/><ellipse cx="1289.4" cy="189.5" rx="1.75" ry="1.1" opacity="1.00"/><ellipse cx="1292.0" cy="187.4" rx="1.75" ry="1.1" opacity="0.99"/><ellipse cx="1295.1" cy="184.8" rx="1.75" ry="1.1" opacity="0.99"/><ellipse cx="1298.7" cy="181.9" rx="1.75" ry="1.1" opacity="0.98"/><ellipse cx="1301.2" cy="196.4" rx="1.75" ry="1.1" opacity="0.90"/><ellipse cx="1298.3" cy="195.9" rx="1.75" ry="1.1" opacity="0.90"/><ellipse cx="1295.9" cy="194.3" rx="1.75" ry="1.1" opacity="0.90"/><ellipse cx="1294.4" cy="191.8" rx="1.75" ry="1.1" opacity="0.90"/><ellipse cx="1315.8" cy="202.6" rx="1.75" ry="1.1" opacity="0.90"/><ellipse cx="1312.9" cy="202.0" rx="1.75" ry="1.1" opacity="0.90"/><ellipse cx="1310.5" cy="200.4" rx="1.75" ry="1.1" opacity="0.90"/><ellipse cx="1309.0" cy="197.9" rx="1.75" ry="1.1" opacity="0.90"/></g>
<g fill="#3ac4f0" transform="translate(1300,1418) rotate(180)"><ellipse cx="882.9" cy="99.5" rx="1.75" ry="1.1" opacity="0.04"/><ellipse cx="885.8" cy="100.1" rx="1.75" ry="1.1" opacity="0.04"/><ellipse cx="888.6" cy="99.6" rx="1.75" ry="1.1" opacity="0.04"/><ellipse cx="891.0" cy="97.9" rx="1.75" ry="1.1" opacity="0.04"/><ellipse cx="880.6" cy="97.8" rx="1.75" ry="1.1" opacity="0.05"/><ellipse cx="878.9" cy="94.8" rx="1.75" ry="1.1" opacity="0.05"/><ellipse cx="876.9" cy="91.3" rx="1.75" ry="1.1" opacity="0.04"/><ellipse cx="874.7" cy="87.3" rx="1.75" ry="1.1" opacity="0.04"/><ellipse cx="872.1" cy="82.7" rx="1.75" ry="1.1" opacity="0.04"/><ellipse cx="869.2" cy="77.6" rx="1.75" ry="1.1" opacity="0.04"/><ellipse cx="897.5" cy="102.3" rx="1.75" ry="1.1" opacity="0.10"/><ellipse cx="900.3" cy="103.0" rx="1.75" ry="1.1" opacity="0.10"/><ellipse cx="903.1" cy="102.5" rx="1.75" ry="1.1" opacity="0.10"/><ellipse cx="905.6" cy="100.9" rx="1.75" ry="1.1" opacity="0.10"/><ellipse cx="895.2" cy="100.5" rx="1.75" ry="1.1" opacity="0.11"/><ellipse cx="893.6" cy="97.5" rx="1.75" ry="1.1" opacity="0.10"/><ellipse cx="891.7" cy="93.9" rx="1.75" ry="1.1" opacity="0.10"/><ellipse cx="889.6" cy="89.8" rx="1.75" ry="1.1" opacity="0.10"/><ellipse cx="887.1" cy="85.2" rx="1.75" ry="1.1" opacity="0.10"/><ellipse cx="884.4" cy="80.0" rx="1.75" ry="1.1" opacity="0.09"/><ellipse cx="881.4" cy="74.2" rx="1.75" ry="1.1" opacity="0.09"/><ellipse cx="878.0" cy="67.9" rx="1.75" ry="1.1" opacity="0.09"/><ellipse cx="874.4" cy="61.1" rx="1.75" ry="1.1" opacity="0.08"/><ellipse cx="870.5" cy="53.7" rx="1.75" ry="1.1" opacity="0.08"/><ellipse cx="866.4" cy="45.7" rx="1.75" ry="1.1" opacity="0.07"/><ellipse cx="861.9" cy="37.2" rx="1.75" ry="1.1" opacity="0.07"/><ellipse cx="857.1" cy="28.2" rx="1.75" ry="1.1" opacity="0.06"/><ellipse cx="852.1" cy="18.6" rx="1.75" ry="1.1" opacity="0.06"/><ellipse cx="846.9" cy="8.9" rx="1.75" ry="1.1" opacity="0.05"/><ellipse cx="912.0" cy="104.5" rx="1.75" ry="1.1" opacity="0.15"/><ellipse cx="914.8" cy="105.2" rx="1.75" ry="1.1" opacity="0.15"/><ellipse cx="917.7" cy="104.8" rx="1.75" ry="1.1" opacity="0.15"/><ellipse cx="920.1" cy="103.3" rx="1.75" ry="1.1" opacity="0.15"/><ellipse cx="909.8" cy="102.6" rx="1.75" ry="1.1" opacity="0.17"/><ellipse cx="908.3" cy="99.5" rx="1.75" ry="1.1" opacity="0.17"/><ellipse cx="906.5" cy="95.9" rx="1.75" ry="1.1" opacity="0.17"/><ellipse cx="904.5" cy="91.8" rx="1.75" ry="1.1" opacity="0.16"/><ellipse cx="902.2" cy="87.0" rx="1.75" ry="1.1" opacity="0.16"/><ellipse cx="899.6" cy="81.7" rx="1.75" ry="1.1" opacity="0.15"/><ellipse cx="896.8" cy="75.9" rx="1.75" ry="1.1" opacity="0.15"/><ellipse cx="893.6" cy="69.5" rx="1.75" ry="1.1" opacity="0.14"/><ellipse cx="890.2" cy="62.5" rx="1.75" ry="1.1" opacity="0.13"/><ellipse cx="886.6" cy="55.0" rx="1.75" ry="1.1" opacity="0.13"/><ellipse cx="882.6" cy="47.0" rx="1.75" ry="1.1" opacity="0.12"/><ellipse cx="878.4" cy="38.3" rx="1.75" ry="1.1" opacity="0.11"/><ellipse cx="873.9" cy="29.2" rx="1.75" ry="1.1" opacity="0.10"/><ellipse cx="869.2" cy="19.4" rx="1.75" ry="1.1" opacity="0.09"/><ellipse cx="864.4" cy="9.5" rx="1.75" ry="1.1" opacity="0.08"/><ellipse cx="926.6" cy="106.5" rx="1.75" ry="1.1" opacity="0.22"/><ellipse cx="929.3" cy="107.4" rx="1.75" ry="1.1" opacity="0.22"/><ellipse cx="932.2" cy="107.1" rx="1.75" ry="1.1" opacity="0.22"/><ellipse cx="934.7" cy="105.6" rx="1.75" ry="1.1" opacity="0.22"/><ellipse cx="924.4" cy="104.6" rx="1.75" ry="1.1" opacity="0.24"/><ellipse cx="923.0" cy="101.5" rx="1.75" ry="1.1" opacity="0.24"/><ellipse cx="921.3" cy="97.8" rx="1.75" ry="1.1" opacity="0.23"/><ellipse cx="919.4" cy="93.6" rx="1.75" ry="1.1" opacity="0.23"/><ellipse cx="917.3" cy="88.8" rx="1.75" ry="1.1" opacity="0.22"/><ellipse cx="914.9" cy="83.4" rx="1.75" ry="1.1" opacity="0.21"/><ellipse cx="912.2" cy="77.5" rx="1.75" ry="1.1" opacity="0.21"/><ellipse cx="909.3" cy="71.0" rx="1.75" ry="1.1" opacity="0.20"/><ellipse cx="906.1" cy="63.9" rx="1.75" ry="1.1" opacity="0.19"/><ellipse cx="902.6" cy="56.3" rx="1.75" ry="1.1" opacity="0.18"/><ellipse cx="899.0" cy="48.1" rx="1.75" ry="1.1" opacity="0.17"/><ellipse cx="895.0" cy="39.4" rx="1.75" ry="1.1" opacity="0.15"/><ellipse cx="890.8" cy="30.1" rx="1.75" ry="1.1" opacity="0.14"/><ellipse cx="886.4" cy="20.2" rx="1.75" ry="1.1" opacity="0.13"/><ellipse cx="881.8" cy="10.1" rx="1.75" ry="1.1" opacity="0.12"/><ellipse cx="941.1" cy="108.5" rx="1.75" ry="1.1" opacity="0.29"/><ellipse cx="943.8" cy="109.5" rx="1.75" ry="1.1" opacity="0.29"/><ellipse cx="946.7" cy="109.3" rx="1.75" ry="1.1" opacity="0.29"/><ellipse cx="949.3" cy="107.9" rx="1.75" ry="1.1" opacity="0.29"/><ellipse cx="939.0" cy="106.5" rx="1.75" ry="1.1" opacity="0.32"/><ellipse cx="937.7" cy="103.4" rx="1.75" ry="1.1" opacity="0.31"/><ellipse cx="936.2" cy="99.7" rx="1.75" ry="1.1" opacity="0.31"/><ellipse cx="934.4" cy="95.4" rx="1.75" ry="1.1" opacity="0.30"/><ellipse cx="932.4" cy="90.5" rx="1.75" ry="1.1" opacity="0.29"/><ellipse cx="930.1" cy="85.1" rx="1.75" ry="1.1" opacity="0.28"/><ellipse cx="927.6" cy="79.1" rx="1.75" ry="1.1" opacity="0.27"/><ellipse cx="924.9" cy="72.5" rx="1.75" ry="1.1" opacity="0.26"/><ellipse cx="921.9" cy="65.4" rx="1.75" ry="1.1" opacity="0.25"/><ellipse cx="918.7" cy="57.6" rx="1.75" ry="1.1" opacity="0.23"/><ellipse cx="915.3" cy="49.3" rx="1.75" ry="1.1" opacity="0.22"/><ellipse cx="911.6" cy="40.5" rx="1.75" ry="1.1" opacity="0.20"/><ellipse cx="907.7" cy="31.0" rx="1.75" ry="1.1" opacity="0.19"/><ellipse cx="903.5" cy="21.0" rx="1.75" ry="1.1" opacity="0.17"/><ellipse cx="899.3" cy="10.9" rx="1.75" ry="1.1" opacity="0.15"/><ellipse cx="955.6" cy="110.5" rx="1.75" ry="1.1" opacity="0.36"/><ellipse cx="958.3" cy="111.5" rx="1.75" ry="1.1" opacity="0.36"/><ellipse cx="961.2" cy="111.4" rx="1.75" ry="1.1" opacity="0.36"/><ellipse cx="963.8" cy="110.1" rx="1.75" ry="1.1" opacity="0.36"/><ellipse cx="953.6" cy="108.4" rx="1.75" ry="1.1" opacity="0.39"/><ellipse cx="952.4" cy="105.3" rx="1.75" ry="1.1" opacity="0.39"/><ellipse cx="951.0" cy="101.5" rx="1.75" ry="1.1" opacity="0.38"/><ellipse cx="949.3" cy="97.2" rx="1.75" ry="1.1" opacity="0.37"/><ellipse cx="947.5" cy="92.2" rx="1.75" ry="1.1" opacity="0.36"/><ellipse cx="945.4" cy="86.7" rx="1.75" ry="1.1" opacity="0.35"/><ellipse cx="943.1" cy="80.7" rx="1.75" ry="1.1" opacity="0.34"/><ellipse cx="940.5" cy="74.0" rx="1.75" ry="1.1" opacity="0.32"/><ellipse cx="937.8" cy="66.8" rx="1.75" ry="1.1" opacity="0.31"/><ellipse cx="934.8" cy="59.0" rx="1.75" ry="1.1" opacity="0.29"/><ellipse cx="931.7" cy="50.6" rx="1.75" ry="1.1" opacity="0.27"/><ellipse cx="928.2" cy="41.6" rx="1.75" ry="1.1" opacity="0.25"/><ellipse cx="924.6" cy="32.0" rx="1.75" ry="1.1" opacity="0.23"/><ellipse cx="920.8" cy="21.9" rx="1.75" ry="1.1" opacity="0.21"/><ellipse cx="916.9" cy="11.6" rx="1.75" ry="1.1" opacity="0.19"/><ellipse cx="970.1" cy="112.3" rx="1.75" ry="1.1" opacity="0.43"/><ellipse cx="972.8" cy="113.5" rx="1.75" ry="1.1" opacity="0.43"/><ellipse cx="975.7" cy="113.6" rx="1.75" ry="1.1" opacity="0.43"/><ellipse cx="978.3" cy="112.4" rx="1.75" ry="1.1" opacity="0.43"/><ellipse cx="968.2" cy="110.2" rx="1.75" ry="1.1" opacity="0.48"/><ellipse cx="967.2" cy="106.9" rx="1.75" ry="1.1" opacity="0.47"/><ellipse cx="965.9" cy="103.1" rx="1.75" ry="1.1" opacity="0.46"/><ellipse cx="964.5" cy="98.7" rx="1.75" ry="1.1" opacity="0.45"/><ellipse cx="962.9" cy="93.7" rx="1.75" ry="1.1" opacity="0.43"/><ellipse cx="961.1" cy="88.1" rx="1.75" ry="1.1" opacity="0.42"/><ellipse cx="959.1" cy="81.9" rx="1.75" ry="1.1" opacity="0.40"/><ellipse cx="957.0" cy="75.1" rx="1.75" ry="1.1" opacity="0.39"/><ellipse cx="954.6" cy="67.7" rx="1.75" ry="1.1" opacity="0.37"/><ellipse cx="952.1" cy="59.8" rx="1.75" ry="1.1" opacity="0.35"/><ellipse cx="949.3" cy="51.2" rx="1.75" ry="1.1" opacity="0.33"/><ellipse cx="946.4" cy="42.1" rx="1.75" ry="1.1" opacity="0.30"/><ellipse cx="943.3" cy="32.4" rx="1.75" ry="1.1" opacity="0.28"/><ellipse cx="940.0" cy="22.0" rx="1.75" ry="1.1" opacity="0.25"/><ellipse cx="936.6" cy="11.6" rx="1.75" ry="1.1" opacity="0.23"/><ellipse cx="984.6" cy="114.2" rx="1.75" ry="1.1" opacity="0.50"/><ellipse cx="987.1" cy="115.6" rx="1.75" ry="1.1" opacity="0.50"/><ellipse cx="990.0" cy="115.8" rx="1.75" ry="1.1" opacity="0.50"/><ellipse cx="992.8" cy="114.8" rx="1.75" ry="1.1" opacity="0.50"/><ellipse cx="982.8" cy="111.9" rx="1.75" ry="1.1" opacity="0.56"/><ellipse cx="982.0" cy="108.6" rx="1.75" ry="1.1" opacity="0.55"/><ellipse cx="981.0" cy="104.7" rx="1.75" ry="1.1" opacity="0.54"/><ellipse cx="979.9" cy="100.2" rx="1.75" ry="1.1" opacity="0.52"/><ellipse cx="978.7" cy="95.1" rx="1.75" ry="1.1" opacity="0.51"/><ellipse cx="977.3" cy="89.4" rx="1.75" ry="1.1" opacity="0.49"/><ellipse cx="975.8" cy="83.1" rx="1.75" ry="1.1" opacity="0.47"/><ellipse cx="974.1" cy="76.2" rx="1.75" ry="1.1" opacity="0.45"/><ellipse cx="972.2" cy="68.6" rx="1.75" ry="1.1" opacity="0.43"/><ellipse cx="970.2" cy="60.5" rx="1.75" ry="1.1" opacity="0.41"/><ellipse cx="968.1" cy="51.8" rx="1.75" ry="1.1" opacity="0.38"/><ellipse cx="965.8" cy="42.5" rx="1.75" ry="1.1" opacity="0.36"/><ellipse cx="963.4" cy="32.6" rx="1.75" ry="1.1" opacity="0.33"/><ellipse cx="960.8" cy="22.0" rx="1.75" ry="1.1" opacity="0.30"/><ellipse cx="958.2" cy="11.3" rx="1.75" ry="1.1" opacity="0.27"/><ellipse cx="999.0" cy="116.1" rx="1.75" ry="1.1" opacity="0.58"/><ellipse cx="1001.5" cy="117.6" rx="1.75" ry="1.1" opacity="0.58"/><ellipse cx="1004.3" cy="118.1" rx="1.75" ry="1.1" opacity="0.58"/><ellipse cx="1007.1" cy="117.3" rx="1.75" ry="1.1" opacity="0.58"/><ellipse cx="997.4" cy="113.7" rx="1.75" ry="1.1" opacity="0.64"/><ellipse cx="996.8" cy="110.3" rx="1.75" ry="1.1" opacity="0.63"/><ellipse cx="996.1" cy="106.4" rx="1.75" ry="1.1" opacity="0.62"/><ellipse cx="995.4" cy="101.8" rx="1.75" ry="1.1" opacity="0.60"/><ellipse cx="994.5" cy="96.6" rx="1.75" ry="1.1" opacity="0.59"/><ellipse cx="993.5" cy="90.8" rx="1.75" ry="1.1" opacity="0.57"/><ellipse cx="992.4" cy="84.4" rx="1.75" ry="1.1" opacity="0.55"/><ellipse cx="991.2" cy="77.4" rx="1.75" ry="1.1" opacity="0.52"/><ellipse cx="989.9" cy="69.8" rx="1.75" ry="1.1" opacity="0.50"/><ellipse cx="988.5" cy="61.5" rx="1.75" ry="1.1" opacity="0.47"/><ellipse cx="987.0" cy="52.7" rx="1.75" ry="1.1" opacity="0.44"/><ellipse cx="985.3" cy="43.2" rx="1.75" ry="1.1" opacity="0.41"/><ellipse cx="983.6" cy="33.1" rx="1.75" ry="1.1" opacity="0.38"/><ellipse cx="981.8" cy="22.5" rx="1.75" ry="1.1" opacity="0.34"/><ellipse cx="979.9" cy="11.6" rx="1.75" ry="1.1" opacity="0.31"/><ellipse cx="1013.4" cy="118.3" rx="1.75" ry="1.1" opacity="0.66"/><ellipse cx="1015.8" cy="120.0" rx="1.75" ry="1.1" opacity="0.66"/><ellipse cx="1018.6" cy="120.6" rx="1.75" ry="1.1" opacity="0.66"/><ellipse cx="1021.5" cy="120.0" rx="1.75" ry="1.1" opacity="0.66"/><ellipse cx="1012.0" cy="115.8" rx="1.75" ry="1.1" opacity="0.73"/><ellipse cx="1011.6" cy="112.4" rx="1.75" ry="1.1" opacity="0.72"/><ellipse cx="1011.2" cy="108.4" rx="1.75" ry="1.1" opacity="0.70"/><ellipse cx="1010.8" cy="103.8" rx="1.75" ry="1.1" opacity="0.69"/><ellipse cx="1010.2" cy="98.5" rx="1.75" ry="1.1" opacity="0.67"/><ellipse cx="1009.6" cy="92.7" rx="1.75" ry="1.1" opacity="0.64"/><ellipse cx="1008.9" cy="86.2" rx="1.75" ry="1.1" opacity="0.62"/><ellipse cx="1008.2" cy="79.2" rx="1.75" ry="1.1" opacity="0.60"/><ellipse cx="1007.4" cy="71.5" rx="1.75" ry="1.1" opacity="0.57"/><ellipse cx="1006.5" cy="63.1" rx="1.75" ry="1.1" opacity="0.54"/><ellipse cx="1005.6" cy="54.2" rx="1.75" ry="1.1" opacity="0.50"/><ellipse cx="1004.6" cy="44.7" rx="1.75" ry="1.1" opacity="0.47"/><ellipse cx="1003.6" cy="34.5" rx="1.75" ry="1.1" opacity="0.43"/><ellipse cx="1002.5" cy="23.7" rx="1.75" ry="1.1" opacity="0.39"/><ellipse cx="1001.3" cy="12.8" rx="1.75" ry="1.1" opacity="0.35"/><ellipse cx="1027.9" cy="120.5" rx="1.75" ry="1.1" opacity="0.74"/><ellipse cx="1030.1" cy="122.4" rx="1.75" ry="1.1" opacity="0.74"/><ellipse cx="1032.9" cy="123.2" rx="1.75" ry="1.1" opacity="0.74"/><ellipse cx="1035.8" cy="122.8" rx="1.75" ry="1.1" opacity="0.74"/><ellipse cx="1026.6" cy="117.9" rx="1.75" ry="1.1" opacity="0.82"/><ellipse cx="1026.5" cy="114.5" rx="1.75" ry="1.1" opacity="0.80"/><ellipse cx="1026.3" cy="110.5" rx="1.75" ry="1.1" opacity="0.79"/><ellipse cx="1026.1" cy="105.9" rx="1.75" ry="1.1" opacity="0.77"/><ellipse cx="1025.9" cy="100.6" rx="1.75" ry="1.1" opacity="0.75"/><ellipse cx="1025.7" cy="94.8" rx="1.75" ry="1.1" opacity="0.72"/><ellipse cx="1025.5" cy="88.3" rx="1.75" ry="1.1" opacity="0.70"/><ellipse cx="1025.2" cy="81.1" rx="1.75" ry="1.1" opacity="0.67"/><ellipse cx="1024.9" cy="73.4" rx="1.75" ry="1.1" opacity="0.64"/><ellipse cx="1024.6" cy="65.1" rx="1.75" ry="1.1" opacity="0.60"/><ellipse cx="1024.3" cy="56.1" rx="1.75" ry="1.1" opacity="0.57"/><ellipse cx="1023.9" cy="46.5" rx="1.75" ry="1.1" opacity="0.53"/><ellipse cx="1023.5" cy="36.3" rx="1.75" ry="1.1" opacity="0.49"/><ellipse cx="1023.1" cy="25.4" rx="1.75" ry="1.1" opacity="0.45"/><ellipse cx="1022.7" cy="14.5" rx="1.75" ry="1.1" opacity="0.40"/><ellipse cx="1022.3" cy="3.5" rx="1.75" ry="1.1" opacity="0.36"/><ellipse cx="1042.3" cy="122.8" rx="1.75" ry="1.1" opacity="0.82"/><ellipse cx="1044.3" cy="124.8" rx="1.75" ry="1.1" opacity="0.82"/><ellipse cx="1047.1" cy="125.8" rx="1.75" ry="1.1" opacity="0.82"/><ellipse cx="1050.0" cy="125.6" rx="1.75" ry="1.1" opacity="0.82"/><ellipse cx="1041.2" cy="120.1" rx="1.75" ry="1.1" opacity="0.91"/><ellipse cx="1041.3" cy="116.7" rx="1.75" ry="1.1" opacity="0.89"/><ellipse cx="1041.5" cy="112.7" rx="1.75" ry="1.1" opacity="0.87"/><ellipse cx="1041.7" cy="108.1" rx="1.75" ry="1.1" opacity="0.85"/><ellipse cx="1041.9" cy="102.8" rx="1.75" ry="1.1" opacity="0.83"/><ellipse cx="1042.1" cy="96.9" rx="1.75" ry="1.1" opacity="0.81"/><ellipse cx="1042.4" cy="90.4" rx="1.75" ry="1.1" opacity="0.78"/><ellipse cx="1042.7" cy="83.3" rx="1.75" ry="1.1" opacity="0.75"/><ellipse cx="1043.0" cy="75.6" rx="1.75" ry="1.1" opacity="0.71"/><ellipse cx="1043.3" cy="67.2" rx="1.75" ry="1.1" opacity="0.68"/><ellipse cx="1043.7" cy="58.3" rx="1.75" ry="1.1" opacity="0.64"/><ellipse cx="1044.0" cy="48.7" rx="1.75" ry="1.1" opacity="0.59"/><ellipse cx="1044.5" cy="38.4" rx="1.75" ry="1.1" opacity="0.55"/><ellipse cx="1044.9" cy="27.6" rx="1.75" ry="1.1" opacity="0.50"/><ellipse cx="1045.3" cy="16.6" rx="1.75" ry="1.1" opacity="0.45"/><ellipse cx="1045.8" cy="5.6" rx="1.75" ry="1.1" opacity="0.41"/><ellipse cx="1056.6" cy="125.2" rx="1.75" ry="1.1" opacity="0.90"/><ellipse cx="1058.5" cy="127.4" rx="1.75" ry="1.1" opacity="0.90"/><ellipse cx="1061.1" cy="128.6" rx="1.75" ry="1.1" opacity="0.90"/><ellipse cx="1064.0" cy="128.7" rx="1.75" ry="1.1" opacity="0.90"/><ellipse cx="1055.8" cy="122.4" rx="1.75" ry="1.1" opacity="1.00"/><ellipse cx="1056.2" cy="119.0" rx="1.75" ry="1.1" opacity="0.98"/><ellipse cx="1056.8" cy="115.0" rx="1.75" ry="1.1" opacity="0.96"/><ellipse cx="1057.4" cy="110.4" rx="1.75" ry="1.1" opacity="0.94"/><ellipse cx="1058.1" cy="105.2" rx="1.75" ry="1.1" opacity="0.92"/><ellipse cx="1058.8" cy="99.4" rx="1.75" ry="1.1" opacity="0.89"/><ellipse cx="1059.7" cy="92.9" rx="1.75" ry="1.1" opacity="0.86"/><ellipse cx="1060.6" cy="85.9" rx="1.75" ry="1.1" opacity="0.83"/><ellipse cx="1061.7" cy="78.2" rx="1.75" ry="1.1" opacity="0.79"/><ellipse cx="1062.8" cy="69.9" rx="1.75" ry="1.1" opacity="0.75"/><ellipse cx="1063.9" cy="61.0" rx="1.75" ry="1.1" opacity="0.71"/><ellipse cx="1065.2" cy="51.5" rx="1.75" ry="1.1" opacity="0.66"/><ellipse cx="1066.5" cy="41.4" rx="1.75" ry="1.1" opacity="0.62"/><ellipse cx="1068.0" cy="30.6" rx="1.75" ry="1.1" opacity="0.56"/><ellipse cx="1069.4" cy="19.7" rx="1.75" ry="1.1" opacity="0.51"/><ellipse cx="1070.8" cy="8.8" rx="1.75" ry="1.1" opacity="0.46"/><ellipse cx="1071.0" cy="128.4" rx="1.75" ry="1.1" opacity="0.90"/><ellipse cx="1072.7" cy="130.7" rx="1.75" ry="1.1" opacity="0.90"/><ellipse cx="1075.2" cy="132.1" rx="1.75" ry="1.1" opacity="0.90"/><ellipse cx="1078.1" cy="132.4" rx="1.75" ry="1.1" opacity="0.90"/><ellipse cx="1070.4" cy="125.5" rx="1.75" ry="1.1" opacity="1.00"/><ellipse cx="1071.1" cy="122.2" rx="1.75" ry="1.1" opacity="0.98"/><ellipse cx="1071.9" cy="118.3" rx="1.75" ry="1.1" opacity="0.97"/><ellipse cx="1072.9" cy="113.7" rx="1.75" ry="1.1" opacity="0.95"/><ellipse cx="1074.0" cy="108.6" rx="1.75" ry="1.1" opacity="0.92"/><ellipse cx="1075.2" cy="102.8" rx="1.75" ry="1.1" opacity="0.90"/><ellipse cx="1076.6" cy="96.5" rx="1.75" ry="1.1" opacity="0.87"/><ellipse cx="1078.0" cy="89.5" rx="1.75" ry="1.1" opacity="0.83"/><ellipse cx="1079.7" cy="81.9" rx="1.75" ry="1.1" opacity="0.80"/><ellipse cx="1081.4" cy="73.7" rx="1.75" ry="1.1" opacity="0.76"/><ellipse cx="1083.3" cy="65.0" rx="1.75" ry="1.1" opacity="0.72"/><ellipse cx="1085.3" cy="55.6" rx="1.75" ry="1.1" opacity="0.68"/><ellipse cx="1087.4" cy="45.6" rx="1.75" ry="1.1" opacity="0.63"/><ellipse cx="1089.6" cy="35.0" rx="1.75" ry="1.1" opacity="0.58"/><ellipse cx="1091.9" cy="24.2" rx="1.75" ry="1.1" opacity="0.53"/><ellipse cx="1094.2" cy="13.5" rx="1.75" ry="1.1" opacity="0.48"/><ellipse cx="1085.4" cy="131.5" rx="1.75" ry="1.1" opacity="0.90"/><ellipse cx="1086.9" cy="134.0" rx="1.75" ry="1.1" opacity="0.90"/><ellipse cx="1089.3" cy="135.6" rx="1.75" ry="1.1" opacity="0.90"/><ellipse cx="1092.1" cy="136.2" rx="1.75" ry="1.1" opacity="0.90"/><ellipse cx="1085.0" cy="128.6" rx="1.75" ry="1.1" opacity="1.00"/><ellipse cx="1086.0" cy="125.4" rx="1.75" ry="1.1" opacity="0.99"/><ellipse cx="1087.1" cy="121.5" rx="1.75" ry="1.1" opacity="0.97"/><ellipse cx="1088.4" cy="117.1" rx="1.75" ry="1.1" opacity="0.95"/><ellipse cx="1089.9" cy="112.0" rx="1.75" ry="1.1" opacity="0.93"/><ellipse cx="1091.6" cy="106.4" rx="1.75" ry="1.1" opacity="0.90"/><ellipse cx="1093.4" cy="100.2" rx="1.75" ry="1.1" opacity="0.87"/><ellipse cx="1095.4" cy="93.3" rx="1.75" ry="1.1" opacity="0.84"/><ellipse cx="1097.6" cy="85.9" rx="1.75" ry="1.1" opacity="0.81"/><ellipse cx="1100.0" cy="77.9" rx="1.75" ry="1.1" opacity="0.77"/><ellipse cx="1102.5" cy="69.3" rx="1.75" ry="1.1" opacity="0.73"/><ellipse cx="1105.2" cy="60.1" rx="1.75" ry="1.1" opacity="0.69"/><ellipse cx="1108.1" cy="50.3" rx="1.75" ry="1.1" opacity="0.65"/><ellipse cx="1111.2" cy="39.9" rx="1.75" ry="1.1" opacity="0.60"/><ellipse cx="1114.3" cy="29.3" rx="1.75" ry="1.1" opacity="0.55"/><ellipse cx="1117.4" cy="18.8" rx="1.75" ry="1.1" opacity="0.50"/><ellipse cx="1120.5" cy="8.2" rx="1.75" ry="1.1" opacity="0.46"/><ellipse cx="1099.8" cy="134.8" rx="1.75" ry="1.1" opacity="0.90"/><ellipse cx="1101.1" cy="137.4" rx="1.75" ry="1.1" opacity="0.90"/><ellipse cx="1103.3" cy="139.2" rx="1.75" ry="1.1" opacity="0.90"/><ellipse cx="1106.1" cy="139.9" rx="1.75" ry="1.1" opacity="0.90"/><ellipse cx="1099.6" cy="131.9" rx="1.75" ry="1.1" opacity="1.00"/><ellipse cx="1100.8" cy="128.7" rx="1.75" ry="1.1" opacity="0.99"/><ellipse cx="1102.2" cy="124.9" rx="1.75" ry="1.1" opacity="0.97"/><ellipse cx="1103.9" cy="120.6" rx="1.75" ry="1.1" opacity="0.95"/><ellipse cx="1105.8" cy="115.7" rx="1.75" ry="1.1" opacity="0.93"/><ellipse cx="1107.9" cy="110.2" rx="1.75" ry="1.1" opacity="0.90"/><ellipse cx="1110.2" cy="104.1" rx="1.75" ry="1.1" opacity="0.88"/><ellipse cx="1112.7" cy="97.5" rx="1.75" ry="1.1" opacity="0.85"/><ellipse cx="1115.5" cy="90.2" rx="1.75" ry="1.1" opacity="0.82"/><ellipse cx="1118.5" cy="82.4" rx="1.75" ry="1.1" opacity="0.78"/><ellipse cx="1121.7" cy="74.0" rx="1.75" ry="1.1" opacity="0.75"/><ellipse cx="1125.1" cy="65.1" rx="1.75" ry="1.1" opacity="0.71"/><ellipse cx="1128.7" cy="55.5" rx="1.75" ry="1.1" opacity="0.66"/><ellipse cx="1132.6" cy="45.4" rx="1.75" ry="1.1" opacity="0.62"/><ellipse cx="1136.5" cy="35.1" rx="1.75" ry="1.1" opacity="0.57"/><ellipse cx="1140.4" cy="24.8" rx="1.75" ry="1.1" opacity="0.53"/><ellipse cx="1144.3" cy="14.6" rx="1.75" ry="1.1" opacity="0.48"/><ellipse cx="1148.3" cy="4.3" rx="1.75" ry="1.1" opacity="0.44"/><ellipse cx="1114.2" cy="138.3" rx="1.75" ry="1.1" opacity="0.90"/><ellipse cx="1115.3" cy="141.0" rx="1.75" ry="1.1" opacity="0.90"/><ellipse cx="1117.4" cy="143.0" rx="1.75" ry="1.1" opacity="0.90"/><ellipse cx="1120.2" cy="143.9" rx="1.75" ry="1.1" opacity="0.90"/><ellipse cx="1114.2" cy="135.4" rx="1.75" ry="1.1" opacity="1.00"/><ellipse cx="1115.6" cy="132.4" rx="1.75" ry="1.1" opacity="0.99"/><ellipse cx="1117.3" cy="128.7" rx="1.75" ry="1.1" opacity="0.97"/><ellipse cx="1119.3" cy="124.5" rx="1.75" ry="1.1" opacity="0.95"/><ellipse cx="1121.5" cy="119.7" rx="1.75" ry="1.1" opacity="0.93"/><ellipse cx="1124.0" cy="114.4" rx="1.75" ry="1.1" opacity="0.91"/><ellipse cx="1126.7" cy="108.5" rx="1.75" ry="1.1" opacity="0.88"/><ellipse cx="1129.7" cy="102.0" rx="1.75" ry="1.1" opacity="0.86"/><ellipse cx="1133.0" cy="95.0" rx="1.75" ry="1.1" opacity="0.83"/><ellipse cx="1136.5" cy="87.4" rx="1.75" ry="1.1" opacity="0.79"/><ellipse cx="1140.3" cy="79.3" rx="1.75" ry="1.1" opacity="0.76"/><ellipse cx="1144.3" cy="70.6" rx="1.75" ry="1.1" opacity="0.72"/><ellipse cx="1148.6" cy="61.3" rx="1.75" ry="1.1" opacity="0.68"/><ellipse cx="1153.2" cy="51.5" rx="1.75" ry="1.1" opacity="0.64"/><ellipse cx="1157.8" cy="41.5" rx="1.75" ry="1.1" opacity="0.60"/><ellipse cx="1162.4" cy="31.5" rx="1.75" ry="1.1" opacity="0.56"/><ellipse cx="1167.1" cy="21.5" rx="1.75" ry="1.1" opacity="0.51"/><ellipse cx="1171.7" cy="11.6" rx="1.75" ry="1.1" opacity="0.47"/><ellipse cx="1126.5" cy="140.7" rx="1.75" ry="1.1" opacity="0.90"/><ellipse cx="1123.7" cy="141.4" rx="1.75" ry="1.1" opacity="0.90"/><ellipse cx="1120.8" cy="140.9" rx="1.75" ry="1.1" opacity="0.90"/><ellipse cx="1118.4" cy="139.2" rx="1.75" ry="1.1" opacity="0.90"/><ellipse cx="1128.8" cy="139.0" rx="1.75" ry="1.1" opacity="1.00"/><ellipse cx="1130.4" cy="136.0" rx="1.75" ry="1.1" opacity="0.99"/><ellipse cx="1132.4" cy="132.5" rx="1.75" ry="1.1" opacity="0.97"/><ellipse cx="1134.6" cy="128.4" rx="1.75" ry="1.1" opacity="0.96"/><ellipse cx="1137.2" cy="123.8" rx="1.75" ry="1.1" opacity="0.94"/><ellipse cx="1140.0" cy="118.7" rx="1.75" ry="1.1" opacity="0.92"/><ellipse cx="1143.2" cy="113.0" rx="1.75" ry="1.1" opacity="0.89"/><ellipse cx="1146.6" cy="106.8" rx="1.75" ry="1.1" opacity="0.87"/><ellipse cx="1150.3" cy="100.0" rx="1.75" ry="1.1" opacity="0.84"/><ellipse cx="1154.4" cy="92.7" rx="1.75" ry="1.1" opacity="0.81"/><ellipse cx="1158.7" cy="84.8" rx="1.75" ry="1.1" opacity="0.77"/><ellipse cx="1163.4" cy="76.4" rx="1.75" ry="1.1" opacity="0.74"/><ellipse cx="1168.3" cy="67.5" rx="1.75" ry="1.1" opacity="0.70"/><ellipse cx="1173.5" cy="58.0" rx="1.75" ry="1.1" opacity="0.66"/><ellipse cx="1178.9" cy="48.3" rx="1.75" ry="1.1" opacity="0.62"/><ellipse cx="1184.2" cy="38.7" rx="1.75" ry="1.1" opacity="0.58"/><ellipse cx="1189.5" cy="29.1" rx="1.75" ry="1.1" opacity="0.54"/><ellipse cx="1194.8" cy="19.5" rx="1.75" ry="1.1" opacity="0.50"/><ellipse cx="1200.1" cy="9.8" rx="1.75" ry="1.1" opacity="0.46"/><ellipse cx="1141.0" cy="144.3" rx="1.75" ry="1.1" opacity="0.90"/><ellipse cx="1138.1" cy="144.8" rx="1.75" ry="1.1" opacity="0.90"/><ellipse cx="1135.3" cy="144.0" rx="1.75" ry="1.1" opacity="0.90"/><ellipse cx="1133.0" cy="142.2" rx="1.75" ry="1.1" opacity="0.90"/><ellipse cx="1143.4" cy="142.7" rx="1.75" ry="1.1" opacity="1.00"/><ellipse cx="1145.2" cy="139.9" rx="1.75" ry="1.1" opacity="0.99"/><ellipse cx="1147.4" cy="136.5" rx="1.75" ry="1.1" opacity="0.97"/><ellipse cx="1150.0" cy="132.6" rx="1.75" ry="1.1" opacity="0.96"/><ellipse cx="1152.8" cy="128.2" rx="1.75" ry="1.1" opacity="0.94"/><ellipse cx="1156.0" cy="123.2" rx="1.75" ry="1.1" opacity="0.92"/><ellipse cx="1159.5" cy="117.8" rx="1.75" ry="1.1" opacity="0.90"/><ellipse cx="1163.4" cy="111.8" rx="1.75" ry="1.1" opacity="0.87"/><ellipse cx="1167.6" cy="105.3" rx="1.75" ry="1.1" opacity="0.85"/><ellipse cx="1172.2" cy="98.3" rx="1.75" ry="1.1" opacity="0.82"/><ellipse cx="1177.0" cy="90.8" rx="1.75" ry="1.1" opacity="0.79"/><ellipse cx="1182.3" cy="82.7" rx="1.75" ry="1.1" opacity="0.76"/><ellipse cx="1187.8" cy="74.1" rx="1.75" ry="1.1" opacity="0.72"/><ellipse cx="1193.7" cy="65.0" rx="1.75" ry="1.1" opacity="0.68"/><ellipse cx="1199.7" cy="55.8" rx="1.75" ry="1.1" opacity="0.65"/><ellipse cx="1205.6" cy="46.5" rx="1.75" ry="1.1" opacity="0.61"/><ellipse cx="1211.6" cy="37.3" rx="1.75" ry="1.1" opacity="0.57"/><ellipse cx="1217.6" cy="28.1" rx="1.75" ry="1.1" opacity="0.53"/><ellipse cx="1223.6" cy="18.8" rx="1.75" ry="1.1" opacity="0.50"/><ellipse cx="1229.6" cy="9.6" rx="1.75" ry="1.1" opacity="0.46"/><ellipse cx="1155.5" cy="148.1" rx="1.75" ry="1.1" opacity="0.90"/><ellipse cx="1152.6" cy="148.4" rx="1.75" ry="1.1" opacity="0.90"/><ellipse cx="1149.8" cy="147.5" rx="1.75" ry="1.1" opacity="0.90"/><ellipse cx="1147.7" cy="145.5" rx="1.75" ry="1.1" opacity="0.90"/><ellipse cx="1158.0" cy="146.6" rx="1.75" ry="1.1" opacity="1.00"/><ellipse cx="1160.0" cy="143.9" rx="1.75" ry="1.1" opacity="0.99"/><ellipse cx="1162.4" cy="140.6" rx="1.75" ry="1.1" opacity="0.98"/><ellipse cx="1165.1" cy="136.9" rx="1.75" ry="1.1" opacity="0.96"/><ellipse cx="1168.2" cy="132.6" rx="1.75" ry="1.1" opacity="0.94"/><ellipse cx="1171.7" cy="127.9" rx="1.75" ry="1.1" opacity="0.93"/><ellipse cx="1175.5" cy="122.6" rx="1.75" ry="1.1" opacity="0.91"/><ellipse cx="1179.7" cy="116.9" rx="1.75" ry="1.1" opacity="0.88"/><ellipse cx="1184.2" cy="110.6" rx="1.75" ry="1.1" opacity="0.86"/><ellipse cx="1189.2" cy="103.9" rx="1.75" ry="1.1" opacity="0.83"/><ellipse cx="1194.4" cy="96.6" rx="1.75" ry="1.1" opacity="0.80"/><ellipse cx="1200.1" cy="88.8" rx="1.75" ry="1.1" opacity="0.77"/><ellipse cx="1206.1" cy="80.6" rx="1.75" ry="1.1" opacity="0.74"/><ellipse cx="1212.5" cy="71.8" rx="1.75" ry="1.1" opacity="0.70"/><ellipse cx="1219.0" cy="62.9" rx="1.75" ry="1.1" opacity="0.67"/><ellipse cx="1225.4" cy="54.0" rx="1.75" ry="1.1" opacity="0.63"/><ellipse cx="1231.9" cy="45.1" rx="1.75" ry="1.1" opacity="0.60"/><ellipse cx="1238.4" cy="36.2" rx="1.75" ry="1.1" opacity="0.56"/><ellipse cx="1244.9" cy="27.4" rx="1.75" ry="1.1" opacity="0.53"/><ellipse cx="1251.3" cy="18.5" rx="1.75" ry="1.1" opacity="0.49"/><ellipse cx="1257.8" cy="9.6" rx="1.75" ry="1.1" opacity="0.46"/><ellipse cx="1170.0" cy="151.9" rx="1.75" ry="1.1" opacity="0.90"/><ellipse cx="1167.1" cy="152.1" rx="1.75" ry="1.1" opacity="0.90"/><ellipse cx="1164.4" cy="151.1" rx="1.75" ry="1.1" opacity="0.90"/><ellipse cx="1162.3" cy="149.1" rx="1.75" ry="1.1" opacity="0.90"/><ellipse cx="1172.6" cy="150.6" rx="1.75" ry="1.1" opacity="1.00"/><ellipse cx="1174.7" cy="147.9" rx="1.75" ry="1.1" opacity="0.99"/><ellipse cx="1177.2" cy="144.7" rx="1.75" ry="1.1" opacity="0.98"/><ellipse cx="1180.1" cy="141.1" rx="1.75" ry="1.1" opacity="0.96"/><ellipse cx="1183.3" cy="137.0" rx="1.75" ry="1.1" opacity="0.95"/><ellipse cx="1187.0" cy="132.3" rx="1.75" ry="1.1" opacity="0.93"/><ellipse cx="1191.0" cy="127.2" rx="1.75" ry="1.1" opacity="0.91"/><ellipse cx="1195.4" cy="121.6" rx="1.75" ry="1.1" opacity="0.89"/><ellipse cx="1200.2" cy="115.6" rx="1.75" ry="1.1" opacity="0.87"/><ellipse cx="1205.4" cy="109.0" rx="1.75" ry="1.1" opacity="0.84"/><ellipse cx="1210.9" cy="102.0" rx="1.75" ry="1.1" opacity="0.81"/><ellipse cx="1216.9" cy="94.4" rx="1.75" ry="1.1" opacity="0.78"/><ellipse cx="1223.2" cy="86.4" rx="1.75" ry="1.1" opacity="0.75"/><ellipse cx="1229.9" cy="77.9" rx="1.75" ry="1.1" opacity="0.72"/><ellipse cx="1236.8" cy="69.3" rx="1.75" ry="1.1" opacity="0.69"/><ellipse cx="1243.6" cy="60.6" rx="1.75" ry="1.1" opacity="0.65"/><ellipse cx="1250.4" cy="52.0" rx="1.75" ry="1.1" opacity="0.62"/><ellipse cx="1257.2" cy="43.4" rx="1.75" ry="1.1" opacity="0.59"/><ellipse cx="1264.0" cy="34.7" rx="1.75" ry="1.1" opacity="0.55"/><ellipse cx="1270.8" cy="26.1" rx="1.75" ry="1.1" opacity="0.52"/><ellipse cx="1277.6" cy="17.4" rx="1.75" ry="1.1" opacity="0.49"/><ellipse cx="1284.5" cy="8.8" rx="1.75" ry="1.1" opacity="0.45"/><ellipse cx="1184.6" cy="155.8" rx="1.75" ry="1.1" opacity="0.90"/><ellipse cx="1181.7" cy="155.9" rx="1.75" ry="1.1" opacity="0.90"/><ellipse cx="1179.0" cy="154.8" rx="1.75" ry="1.1" opacity="0.90"/><ellipse cx="1177.0" cy="152.7" rx="1.75" ry="1.1" opacity="0.90"/><ellipse cx="1187.2" cy="154.6" rx="1.75" ry="1.1" opacity="1.00"/><ellipse cx="1189.4" cy="152.0" rx="1.75" ry="1.1" opacity="0.99"/><ellipse cx="1192.0" cy="149.0" rx="1.75" ry="1.1" opacity="0.98"/><ellipse cx="1195.0" cy="145.4" rx="1.75" ry="1.1" opacity="0.97"/><ellipse cx="1198.4" cy="141.4" rx="1.75" ry="1.1" opacity="0.95"/><ellipse cx="1202.3" cy="137.0" rx="1.75" ry="1.1" opacity="0.93"/><ellipse cx="1206.5" cy="132.0" rx="1.75" ry="1.1" opacity="0.92"/><ellipse cx="1211.1" cy="126.6" rx="1.75" ry="1.1" opacity="0.89"/><ellipse cx="1216.1" cy="120.7" rx="1.75" ry="1.1" opacity="0.87"/><ellipse cx="1221.6" cy="114.4" rx="1.75" ry="1.1" opacity="0.85"/><ellipse cx="1227.4" cy="107.5" rx="1.75" ry="1.1" opacity="0.82"/><ellipse cx="1233.6" cy="100.2" rx="1.75" ry="1.1" opacity="0.80"/><ellipse cx="1240.3" cy="92.5" rx="1.75" ry="1.1" opacity="0.77"/><ellipse cx="1247.3" cy="84.2" rx="1.75" ry="1.1" opacity="0.74"/><ellipse cx="1254.5" cy="75.8" rx="1.75" ry="1.1" opacity="0.70"/><ellipse cx="1261.6" cy="67.5" rx="1.75" ry="1.1" opacity="0.67"/><ellipse cx="1268.7" cy="59.1" rx="1.75" ry="1.1" opacity="0.64"/><ellipse cx="1275.9" cy="50.8" rx="1.75" ry="1.1" opacity="0.61"/><ellipse cx="1283.0" cy="42.4" rx="1.75" ry="1.1" opacity="0.58"/><ellipse cx="1290.2" cy="34.0" rx="1.75" ry="1.1" opacity="0.55"/><ellipse cx="1297.3" cy="25.7" rx="1.75" ry="1.1" opacity="0.52"/><ellipse cx="1199.1" cy="159.9" rx="1.75" ry="1.1" opacity="0.90"/><ellipse cx="1196.2" cy="159.8" rx="1.75" ry="1.1" opacity="0.90"/><ellipse cx="1193.6" cy="158.6" rx="1.75" ry="1.1" opacity="0.90"/><ellipse cx="1191.7" cy="156.4" rx="1.75" ry="1.1" opacity="0.90"/><ellipse cx="1201.8" cy="158.7" rx="1.75" ry="1.1" opacity="1.00"/><ellipse cx="1204.1" cy="156.2" rx="1.75" ry="1.1" opacity="0.99"/><ellipse cx="1206.8" cy="153.3" rx="1.75" ry="1.1" opacity="0.98"/><ellipse cx="1210.0" cy="149.9" rx="1.75" ry="1.1" opacity="0.97"/><ellipse cx="1213.5" cy="146.0" rx="1.75" ry="1.1" opacity="0.95"/><ellipse cx="1217.5" cy="141.7" rx="1.75" ry="1.1" opacity="0.94"/><ellipse cx="1221.9" cy="136.9" rx="1.75" ry="1.1" opacity="0.92"/><ellipse cx="1226.8" cy="131.7" rx="1.75" ry="1.1" opacity="0.90"/><ellipse cx="1232.0" cy="126.0" rx="1.75" ry="1.1" opacity="0.88"/><ellipse cx="1237.7" cy="119.8" rx="1.75" ry="1.1" opacity="0.86"/><ellipse cx="1243.8" cy="113.2" rx="1.75" ry="1.1" opacity="0.83"/><ellipse cx="1250.3" cy="106.2" rx="1.75" ry="1.1" opacity="0.81"/><ellipse cx="1257.2" cy="98.7" rx="1.75" ry="1.1" opacity="0.78"/><ellipse cx="1264.6" cy="90.7" rx="1.75" ry="1.1" opacity="0.75"/><ellipse cx="1272.1" cy="82.6" rx="1.75" ry="1.1" opacity="0.72"/><ellipse cx="1279.5" cy="74.5" rx="1.75" ry="1.1" opacity="0.69"/><ellipse cx="1287.0" cy="66.5" rx="1.75" ry="1.1" opacity="0.66"/><ellipse cx="1294.4" cy="58.4" rx="1.75" ry="1.1" opacity="0.63"/><ellipse cx="1301.9" cy="50.3" rx="1.75" ry="1.1" opacity="0.60"/><ellipse cx="1213.7" cy="163.9" rx="1.75" ry="1.1" opacity="0.90"/><ellipse cx="1210.8" cy="163.7" rx="1.75" ry="1.1" opacity="0.90"/><ellipse cx="1208.2" cy="162.4" rx="1.75" ry="1.1" opacity="0.90"/><ellipse cx="1206.4" cy="160.2" rx="1.75" ry="1.1" opacity="0.90"/><ellipse cx="1216.4" cy="162.8" rx="1.75" ry="1.1" opacity="1.00"/><ellipse cx="1218.8" cy="160.4" rx="1.75" ry="1.1" opacity="0.99"/><ellipse cx="1221.6" cy="157.6" rx="1.75" ry="1.1" opacity="0.98"/><ellipse cx="1224.9" cy="154.3" rx="1.75" ry="1.1" opacity="0.97"/><ellipse cx="1228.6" cy="150.6" rx="1.75" ry="1.1" opacity="0.96"/><ellipse cx="1232.8" cy="146.4" rx="1.75" ry="1.1" opacity="0.94"/><ellipse cx="1237.4" cy="141.8" rx="1.75" ry="1.1" opacity="0.93"/><ellipse cx="1242.4" cy="136.8" rx="1.75" ry="1.1" opacity="0.91"/><ellipse cx="1247.9" cy="131.3" rx="1.75" ry="1.1" opacity="0.89"/><ellipse cx="1253.8" cy="125.4" rx="1.75" ry="1.1" opacity="0.87"/><ellipse cx="1260.1" cy="119.0" rx="1.75" ry="1.1" opacity="0.84"/><ellipse cx="1266.9" cy="112.2" rx="1.75" ry="1.1" opacity="0.82"/><ellipse cx="1274.1" cy="105.0" rx="1.75" ry="1.1" opacity="0.79"/><ellipse cx="1281.8" cy="97.3" rx="1.75" ry="1.1" opacity="0.77"/><ellipse cx="1289.5" cy="89.5" rx="1.75" ry="1.1" opacity="0.74"/><ellipse cx="1297.3" cy="81.7" rx="1.75" ry="1.1" opacity="0.71"/><ellipse cx="1228.3" cy="168.6" rx="1.75" ry="1.1" opacity="0.90"/><ellipse cx="1225.4" cy="168.4" rx="1.75" ry="1.1" opacity="0.90"/><ellipse cx="1222.8" cy="166.9" rx="1.75" ry="1.1" opacity="0.90"/><ellipse cx="1221.1" cy="164.6" rx="1.75" ry="1.1" opacity="0.90"/><ellipse cx="1231.0" cy="167.7" rx="1.75" ry="1.1" opacity="1.00"/><ellipse cx="1233.5" cy="165.4" rx="1.75" ry="1.1" opacity="0.99"/><ellipse cx="1236.4" cy="162.6" rx="1.75" ry="1.1" opacity="0.98"/><ellipse cx="1239.8" cy="159.5" rx="1.75" ry="1.1" opacity="0.97"/><ellipse cx="1243.7" cy="155.9" rx="1.75" ry="1.1" opacity="0.96"/><ellipse cx="1248.0" cy="151.9" rx="1.75" ry="1.1" opacity="0.95"/><ellipse cx="1252.7" cy="147.4" rx="1.75" ry="1.1" opacity="0.93"/><ellipse cx="1258.0" cy="142.6" rx="1.75" ry="1.1" opacity="0.91"/><ellipse cx="1263.6" cy="137.3" rx="1.75" ry="1.1" opacity="0.89"/><ellipse cx="1269.7" cy="131.6" rx="1.75" ry="1.1" opacity="0.88"/><ellipse cx="1276.3" cy="125.5" rx="1.75" ry="1.1" opacity="0.85"/><ellipse cx="1283.3" cy="119.0" rx="1.75" ry="1.1" opacity="0.83"/><ellipse cx="1290.8" cy="112.0" rx="1.75" ry="1.1" opacity="0.81"/><ellipse cx="1298.8" cy="104.6" rx="1.75" ry="1.1" opacity="0.78"/><ellipse cx="1242.8" cy="173.4" rx="1.75" ry="1.1" opacity="0.90"/><ellipse cx="1240.0" cy="173.1" rx="1.75" ry="1.1" opacity="0.90"/><ellipse cx="1237.4" cy="171.7" rx="1.75" ry="1.1" opacity="0.90"/><ellipse cx="1235.7" cy="169.3" rx="1.75" ry="1.1" opacity="0.90"/><ellipse cx="1245.6" cy="172.5" rx="1.75" ry="1.1" opacity="1.00"/><ellipse cx="1248.1" cy="170.3" rx="1.75" ry="1.1" opacity="0.99"/><ellipse cx="1251.1" cy="167.6" rx="1.75" ry="1.1" opacity="0.98"/><ellipse cx="1254.6" cy="164.5" rx="1.75" ry="1.1" opacity="0.97"/><ellipse cx="1258.5" cy="160.9" rx="1.75" ry="1.1" opacity="0.96"/><ellipse cx="1262.8" cy="157.0" rx="1.75" ry="1.1" opacity="0.95"/><ellipse cx="1267.7" cy="152.7" rx="1.75" ry="1.1" opacity="0.93"/><ellipse cx="1273.0" cy="147.9" rx="1.75" ry="1.1" opacity="0.92"/><ellipse cx="1278.7" cy="142.7" rx="1.75" ry="1.1" opacity="0.90"/><ellipse cx="1284.9" cy="137.1" rx="1.75" ry="1.1" opacity="0.88"/><ellipse cx="1291.6" cy="131.1" rx="1.75" ry="1.1" opacity="0.86"/><ellipse cx="1298.7" cy="124.7" rx="1.75" ry="1.1" opacity="0.84"/><ellipse cx="1257.4" cy="178.6" rx="1.75" ry="1.1" opacity="0.90"/><ellipse cx="1254.5" cy="178.2" rx="1.75" ry="1.1" opacity="0.90"/><ellipse cx="1252.1" cy="176.7" rx="1.75" ry="1.1" opacity="0.90"/><ellipse cx="1250.4" cy="174.3" rx="1.75" ry="1.1" opacity="0.90"/><ellipse cx="1260.2" cy="177.7" rx="1.75" ry="1.1" opacity="1.00"/><ellipse cx="1262.8" cy="175.5" rx="1.75" ry="1.1" opacity="0.99"/><ellipse cx="1265.8" cy="172.8" rx="1.75" ry="1.1" opacity="0.98"/><ellipse cx="1269.3" cy="169.8" rx="1.75" ry="1.1" opacity="0.97"/><ellipse cx="1273.3" cy="166.3" rx="1.75" ry="1.1" opacity="0.96"/><ellipse cx="1277.7" cy="162.5" rx="1.75" ry="1.1" opacity="0.95"/><ellipse cx="1282.6" cy="158.2" rx="1.75" ry="1.1" opacity="0.94"/><ellipse cx="1288.0" cy="153.5" rx="1.75" ry="1.1" opacity="0.92"/><ellipse cx="1293.8" cy="148.4" rx="1.75" ry="1.1" opacity="0.90"/><ellipse cx="1300.1" cy="142.9" rx="1.75" ry="1.1" opacity="0.89"/><ellipse cx="1272.0" cy="184.4" rx="1.75" ry="1.1" opacity="0.90"/><ellipse cx="1269.1" cy="184.0" rx="1.75" ry="1.1" opacity="0.90"/><ellipse cx="1266.7" cy="182.5" rx="1.75" ry="1.1" opacity="0.90"/><ellipse cx="1265.1" cy="180.1" rx="1.75" ry="1.1" opacity="0.90"/><ellipse cx="1274.8" cy="183.6" rx="1.75" ry="1.1" opacity="1.00"/><ellipse cx="1277.4" cy="181.4" rx="1.75" ry="1.1" opacity="0.99"/><ellipse cx="1280.5" cy="178.8" rx="1.75" ry="1.1" opacity="0.98"/><ellipse cx="1284.0" cy="175.8" rx="1.75" ry="1.1" opacity="0.98"/><ellipse cx="1288.0" cy="172.5" rx="1.75" ry="1.1" opacity="0.96"/><ellipse cx="1292.5" cy="168.7" rx="1.75" ry="1.1" opacity="0.95"/><ellipse cx="1297.5" cy="164.5" rx="1.75" ry="1.1" opacity="0.94"/><ellipse cx="1286.6" cy="190.3" rx="1.75" ry="1.1" opacity="0.90"/><ellipse cx="1283.7" cy="189.9" rx="1.75" ry="1.1" opacity="0.90"/><ellipse cx="1281.3" cy="188.3" rx="1.75" ry="1.1" opacity="0.90"/><ellipse cx="1279.7" cy="185.9" rx="1.75" ry="1.1" opacity="0.90"/><ellipse cx="1289.4" cy="189.5" rx="1.75" ry="1.1" opacity="1.00"/><ellipse cx="1292.0" cy="187.4" rx="1.75" ry="1.1" opacity="0.99"/><ellipse cx="1295.1" cy="184.8" rx="1.75" ry="1.1" opacity="0.99"/><ellipse cx="1298.7" cy="181.9" rx="1.75" ry="1.1" opacity="0.98"/><ellipse cx="1301.2" cy="196.4" rx="1.75" ry="1.1" opacity="0.90"/><ellipse cx="1298.3" cy="195.9" rx="1.75" ry="1.1" opacity="0.90"/><ellipse cx="1295.9" cy="194.3" rx="1.75" ry="1.1" opacity="0.90"/><ellipse cx="1294.4" cy="191.8" rx="1.75" ry="1.1" opacity="0.90"/><ellipse cx="1315.8" cy="202.6" rx="1.75" ry="1.1" opacity="0.90"/><ellipse cx="1312.9" cy="202.0" rx="1.75" ry="1.1" opacity="0.90"/><ellipse cx="1310.5" cy="200.4" rx="1.75" ry="1.1" opacity="0.90"/><ellipse cx="1309.0" cy="197.9" rx="1.75" ry="1.1" opacity="0.90"/></g>
<use href="#cube" x="654.0" y="175.0"/>
<use href="#cube" x="266.5" y="376.0"/>
<use href="#cube" x="1047.0" y="376.0"/>
<use href="#cube" x="266.5" y="842.0"/>
<use href="#cube" x="1047.0" y="842.0"/>
<use href="#cube" x="654.0" y="1053.5"/>
<circle cx="656.2" cy="697.0" r="433.3" fill="none" stroke="#1f8dee" stroke-width="1.7" stroke-dasharray="2 2.2"/>
<circle cx="222" cy="687" r="12.3" fill="#fff"/><circle cx="222" cy="687" r="11" fill="#03dccb"/>
<circle cx="1089" cy="687" r="12.3" fill="#fff"/><circle cx="1089" cy="687" r="11" fill="#03dccb"/>
<circle cx="446" cy="317" r="12.3" fill="#fff"/><circle cx="446" cy="317" r="11" fill="#03dccb"/>
<circle cx="870" cy="317" r="12.3" fill="#fff"/><circle cx="870" cy="317" r="11" fill="#03dccb"/>
<circle cx="446" cy="1075" r="12.3" fill="#fff"/><circle cx="446" cy="1075" r="11" fill="#03dccb"/>
<circle cx="870" cy="1075" r="12.3" fill="#fff"/><circle cx="870" cy="1075" r="11" fill="#03dccb"/>
<g stroke="#2a8ae6" stroke-width="1.6" stroke-dasharray="2.2 2.1">
<line x1="286" y1="688" x2="432" y2="688"/><line x1="880" y1="688" x2="1028" y2="688"/>
<line x1="657" y1="398" x2="657" y2="473"/><line x1="657" y1="920" x2="657" y2="995"/>
</g>
<circle cx="656" cy="696.5" r="224" fill="#edf5fe" fill-opacity="0.5" stroke="#ffffff" stroke-opacity="0.9" stroke-width="4.5"/>
<circle cx="656" cy="696.5" r="224" fill="none" stroke="#0f7eee" stroke-width="2"/>
<circle cx="656" cy="696" r="192" fill="url(#disk)" stroke="#ffffff" stroke-opacity="0.55" stroke-width="2"/>
<defs><linearGradient id="plat" gradientUnits="userSpaceOnUse" x1="470" y1="640" x2="850" y2="700">
 <stop offset="0" stop-color="#4ddbe3"/><stop offset="0.45" stop-color="#40bde2"/><stop offset="1" stop-color="#3b8ade"/>
</linearGradient>
<linearGradient id="cylW" x1="0" y1="0" x2="0" y2="1">
 <stop offset="0" stop-color="#ffffff" stop-opacity="0.35"/><stop offset="0.45" stop-color="#ffffff" stop-opacity="0.95"/><stop offset="1" stop-color="#eefaff"/>
</linearGradient>
<linearGradient id="cylC" x1="0" y1="0" x2="1" y2="0">
 <stop offset="0" stop-color="#35d6f0"/><stop offset="0.5" stop-color="#5ae4f8"/><stop offset="1" stop-color="#2fc2ee"/>
</linearGradient>
<linearGradient id="beam" x1="0" y1="1" x2="0" y2="0">
 <stop offset="0" stop-color="#ffffff" stop-opacity="0.85"/><stop offset="1" stop-color="#ffffff" stop-opacity="0"/>
</linearGradient></defs>
<polygon points="458.0,676.0 660.0,776.0 862.0,676.0 860.0,674.0 660.0,765.0 460.0,674.0" fill="#c9ecfb" opacity="0.85"/><polygon points="460.0,674.0 660.0,765.0 860.0,674.0 860.0,679.0 660.0,771.0 460.0,679.0" fill="#7fd3f3" opacity="0.8"/><polygon points="660.0,583.0 860.0,674.0 660.0,765.0 460.0,674.0" fill="url(#plat)"/><polygon points="460.0,674.0 660.0,765.0 860.0,674.0 846.0,667.6 661.0,751.8 475.0,667.2" fill="#6fdaf0" opacity="0.55"/><g stroke="#ffffff" stroke-width="1.5" fill="none"><line x1="664.0" y1="592.1" x2="486.0" y2="673.1"/><line x1="730.0" y1="622.1" x2="552.0" y2="703.1"/><line x1="782.0" y1="645.8" x2="604.0" y2="726.8"/><line x1="838.0" y1="671.3" x2="660.0" y2="752.3"/><line x1="658.0" y1="593.0" x2="835.0" y2="673.5"/><line x1="592.0" y1="623.0" x2="769.0" y2="703.6"/><line x1="540.0" y1="646.7" x2="717.0" y2="727.2"/><line x1="484.0" y1="672.2" x2="661.0" y2="752.7"/><polygon points="660.0,657.6 704.0,677.6 660.0,697.7 616.0,677.6"/></g><polygon points="663.0,579.5 689.0,592.0 663.0,604.5 637.0,592.0" fill="#49d3f0" fill-opacity="0.9" stroke="#fff" stroke-width="1.7"/><polygon points="663.0,585.2 677.0,592.0 663.0,598.8 649.0,592.0" fill="#86e8f8" opacity="0.7"/><polygon points="644.5,571.0 663.0,579.6 663.0,595.6 644.5,587.0" fill="#44cff0" fill-opacity="0.92"/><polygon points="663.0,579.6 681.5,571.0 681.5,587.0 663.0,595.6" fill="#5ad8f5" fill-opacity="0.92"/><line x1="642.0" y1="575.0" x2="648.5" y2="577.5" stroke="#a6f0ff" stroke-width="1"/><line x1="684.0" y1="575.0" x2="677.5" y2="577.5" stroke="#a6f0ff" stroke-width="1"/><line x1="642.0" y1="578.2" x2="648.5" y2="580.7" stroke="#a6f0ff" stroke-width="1"/><line x1="684.0" y1="578.2" x2="677.5" y2="580.7" stroke="#a6f0ff" stroke-width="1"/><line x1="642.0" y1="581.4" x2="648.5" y2="583.9" stroke="#a6f0ff" stroke-width="1"/><line x1="684.0" y1="581.4" x2="677.5" y2="583.9" stroke="#a6f0ff" stroke-width="1"/><line x1="642.0" y1="584.6" x2="648.5" y2="587.1" stroke="#a6f0ff" stroke-width="1"/><line x1="684.0" y1="584.6" x2="677.5" y2="587.1" stroke="#a6f0ff" stroke-width="1"/><line x1="642.0" y1="587.8" x2="648.5" y2="590.3" stroke="#a6f0ff" stroke-width="1"/><line x1="684.0" y1="587.8" x2="677.5" y2="590.3" stroke="#a6f0ff" stroke-width="1"/><polygon points="663.0,561.9 682.5,571.0 663.0,580.1 643.5,571.0" fill="#62e2f8"/><polygon points="663.0,565.0 675.5,571.0 663.0,577.0 650.5,571.0" fill="#ffffff"/><polygon points="650.5,571.0 675.5,571.0 678.0,553.0 648.0,553.0" fill="url(#beam)" opacity="0.75"/><circle cx="659.0" cy="557.0" r="1.2" fill="#ffffff" opacity="0.85"/><circle cx="666.0" cy="554.0" r="1.2" fill="#ffffff" opacity="0.85"/><circle cx="669.0" cy="560.0" r="1.2" fill="#ffffff" opacity="0.85"/><circle cx="662.0" cy="562.0" r="1.2" fill="#ffffff" opacity="0.85"/><polygon points="601.5,612.0 627.5,624.5 601.5,637.0 575.5,624.5" fill="#49d3f0" fill-opacity="0.9" stroke="#fff" stroke-width="1.7"/><polygon points="601.5,617.7 615.5,624.5 601.5,631.3 587.5,624.5" fill="#86e8f8" opacity="0.7"/><polygon points="583.0,603.5 601.5,612.1 601.5,628.1 583.0,619.5" fill="#44cff0" fill-opacity="0.92"/><polygon points="601.5,612.1 620.0,603.5 620.0,619.5 601.5,628.1" fill="#5ad8f5" fill-opacity="0.92"/><line x1="580.5" y1="607.5" x2="587.0" y2="610.0" stroke="#a6f0ff" stroke-width="1"/><line x1="622.5" y1="607.5" x2="616.0" y2="610.0" stroke="#a6f0ff" stroke-width="1"/><line x1="580.5" y1="610.7" x2="587.0" y2="613.2" stroke="#a6f0ff" stroke-width="1"/><line x1="622.5" y1="610.7" x2="616.0" y2="613.2" stroke="#a6f0ff" stroke-width="1"/><line x1="580.5" y1="613.9" x2="587.0" y2="616.4" stroke="#a6f0ff" stroke-width="1"/><line x1="622.5" y1="613.9" x2="616.0" y2="616.4" stroke="#a6f0ff" stroke-width="1"/><line x1="580.5" y1="617.1" x2="587.0" y2="619.6" stroke="#a6f0ff" stroke-width="1"/><line x1="622.5" y1="617.1" x2="616.0" y2="619.6" stroke="#a6f0ff" stroke-width="1"/><line x1="580.5" y1="620.3" x2="587.0" y2="622.8" stroke="#a6f0ff" stroke-width="1"/><line x1="622.5" y1="620.3" x2="616.0" y2="622.8" stroke="#a6f0ff" stroke-width="1"/><polygon points="601.5,594.4 621.0,603.5 601.5,612.6 582.0,603.5" fill="#62e2f8"/><polygon points="601.5,597.5 614.0,603.5 601.5,609.5 589.0,603.5" fill="#ffffff"/><polygon points="589.0,603.5 614.0,603.5 616.5,585.5 586.5,585.5" fill="url(#beam)" opacity="0.75"/><circle cx="597.5" cy="589.5" r="1.2" fill="#ffffff" opacity="0.85"/><circle cx="604.5" cy="586.5" r="1.2" fill="#ffffff" opacity="0.85"/><circle cx="607.5" cy="592.5" r="1.2" fill="#ffffff" opacity="0.85"/><circle cx="600.5" cy="594.5" r="1.2" fill="#ffffff" opacity="0.85"/><polygon points="719.0,612.0 745.0,624.5 719.0,637.0 693.0,624.5" fill="#49d3f0" fill-opacity="0.9" stroke="#fff" stroke-width="1.7"/><polygon points="719.0,617.7 733.0,624.5 719.0,631.3 705.0,624.5" fill="#86e8f8" opacity="0.7"/><polygon points="700.5,603.5 719.0,612.1 719.0,628.1 700.5,619.5" fill="#44cff0" fill-opacity="0.92"/><polygon points="719.0,612.1 737.5,603.5 737.5,619.5 719.0,628.1" fill="#5ad8f5" fill-opacity="0.92"/><line x1="698.0" y1="607.5" x2="704.5" y2="610.0" stroke="#a6f0ff" stroke-width="1"/><line x1="740.0" y1="607.5" x2="733.5" y2="610.0" stroke="#a6f0ff" stroke-width="1"/><line x1="698.0" y1="610.7" x2="704.5" y2="613.2" stroke="#a6f0ff" stroke-width="1"/><line x1="740.0" y1="610.7" x2="733.5" y2="613.2" stroke="#a6f0ff" stroke-width="1"/><line x1="698.0" y1="613.9" x2="704.5" y2="616.4" stroke="#a6f0ff" stroke-width="1"/><line x1="740.0" y1="613.9" x2="733.5" y2="616.4" stroke="#a6f0ff" stroke-width="1"/><line x1="698.0" y1="617.1" x2="704.5" y2="619.6" stroke="#a6f0ff" stroke-width="1"/><line x1="740.0" y1="617.1" x2="733.5" y2="619.6" stroke="#a6f0ff" stroke-width="1"/><line x1="698.0" y1="620.3" x2="704.5" y2="622.8" stroke="#a6f0ff" stroke-width="1"/><line x1="740.0" y1="620.3" x2="733.5" y2="622.8" stroke="#a6f0ff" stroke-width="1"/><polygon points="719.0,594.4 738.5,603.5 719.0,612.6 699.5,603.5" fill="#62e2f8"/><polygon points="719.0,597.5 731.5,603.5 719.0,609.5 706.5,603.5" fill="#ffffff"/><polygon points="706.5,603.5 731.5,603.5 734.0,585.5 704.0,585.5" fill="url(#beam)" opacity="0.75"/><circle cx="715.0" cy="589.5" r="1.2" fill="#ffffff" opacity="0.85"/><circle cx="722.0" cy="586.5" r="1.2" fill="#ffffff" opacity="0.85"/><circle cx="725.0" cy="592.5" r="1.2" fill="#ffffff" opacity="0.85"/><circle cx="718.0" cy="594.5" r="1.2" fill="#ffffff" opacity="0.85"/><polygon points="531.8,645.0 547.8,645.0 549.8,630.0 529.8,630.0" fill="url(#beam)" opacity="0.45"/><polygon points="539.8,640.4 553.3,647.0 539.8,653.6 526.3,647.0" fill="#3ad0f0" stroke="#fff" stroke-width="1.6"/><polygon points="539.8,641.9 547.8,645.8 539.8,649.7 531.8,645.8" fill="#ffffff" opacity="0.96"/><polygon points="774.7,645.0 790.7,645.0 792.7,630.0 772.7,630.0" fill="url(#beam)" opacity="0.45"/><polygon points="782.7,640.4 796.2,647.0 782.7,653.6 769.2,647.0" fill="#3ad0f0" stroke="#fff" stroke-width="1.6"/><polygon points="782.7,641.9 790.7,645.8 782.7,649.7 774.7,645.8" fill="#ffffff" opacity="0.96"/><polygon points="659.0,639.0 685.0,651.5 659.0,664.0 633.0,651.5" fill="#49d3f0" fill-opacity="0.9" stroke="#fff" stroke-width="1.7"/><polygon points="659.0,644.7 673.0,651.5 659.0,658.3 645.0,651.5" fill="#86e8f8" opacity="0.7"/><polygon points="640.5,630.5 659.0,639.1 659.0,655.1 640.5,646.5" fill="#44cff0" fill-opacity="0.92"/><polygon points="659.0,639.1 677.5,630.5 677.5,646.5 659.0,655.1" fill="#5ad8f5" fill-opacity="0.92"/><line x1="638.0" y1="634.5" x2="644.5" y2="637.0" stroke="#a6f0ff" stroke-width="1"/><line x1="680.0" y1="634.5" x2="673.5" y2="637.0" stroke="#a6f0ff" stroke-width="1"/><line x1="638.0" y1="637.7" x2="644.5" y2="640.2" stroke="#a6f0ff" stroke-width="1"/><line x1="680.0" y1="637.7" x2="673.5" y2="640.2" stroke="#a6f0ff" stroke-width="1"/><line x1="638.0" y1="640.9" x2="644.5" y2="643.4" stroke="#a6f0ff" stroke-width="1"/><line x1="680.0" y1="640.9" x2="673.5" y2="643.4" stroke="#a6f0ff" stroke-width="1"/><line x1="638.0" y1="644.1" x2="644.5" y2="646.6" stroke="#a6f0ff" stroke-width="1"/><line x1="680.0" y1="644.1" x2="673.5" y2="646.6" stroke="#a6f0ff" stroke-width="1"/><line x1="638.0" y1="647.3" x2="644.5" y2="649.8" stroke="#a6f0ff" stroke-width="1"/><line x1="680.0" y1="647.3" x2="673.5" y2="649.8" stroke="#a6f0ff" stroke-width="1"/><polygon points="659.0,621.4 678.5,630.5 659.0,639.6 639.5,630.5" fill="#62e2f8"/><polygon points="659.0,624.5 671.5,630.5 659.0,636.5 646.5,630.5" fill="#ffffff"/><polygon points="646.5,630.5 671.5,630.5 674.0,612.5 644.0,612.5" fill="url(#beam)" opacity="0.75"/><circle cx="655.0" cy="616.5" r="1.2" fill="#ffffff" opacity="0.85"/><circle cx="662.0" cy="613.5" r="1.2" fill="#ffffff" opacity="0.85"/><circle cx="665.0" cy="619.5" r="1.2" fill="#ffffff" opacity="0.85"/><circle cx="658.0" cy="621.5" r="1.2" fill="#ffffff" opacity="0.85"/><polygon points="488.0,656.0 525.0,673.5 488.0,691.0 451.0,673.5" fill="#9fe6f7" fill-opacity="0.35" stroke="#fff" stroke-width="1.6"/><polygon points="460.0,665.5 488.0,678.5 488.0,685.5 460.0,672.5" fill="#7a60d6"/><polygon points="488.0,678.5 516.0,665.5 516.0,672.5 488.0,685.5" fill="#5567e0"/><polygon points="458.0,665.5 488.0,678.5 518.0,665.5 518.0,662.5 488.0,675.5 458.0,662.5" fill="#3fd6f4"/><polygon points="458.0,665.5 488.0,678.5 488.0,680.0 458.0,667.0" fill="#8a6ee6"/><ellipse cx="493.2" cy="680.2" rx="1.7" ry="1.4" fill="#8fefff"/><ellipse cx="499.7" cy="677.4" rx="1.7" ry="1.4" fill="#8fefff"/><ellipse cx="506.3" cy="674.6" rx="1.7" ry="1.4" fill="#8fefff"/><ellipse cx="512.8" cy="671.8" rx="1.7" ry="1.4" fill="#8fefff"/><polygon points="460.0,655.0 488.0,668.0 488.0,675.0 460.0,662.0" fill="#7a60d6"/><polygon points="488.0,668.0 516.0,655.0 516.0,662.0 488.0,675.0" fill="#5567e0"/><polygon points="458.0,655.0 488.0,668.0 518.0,655.0 518.0,652.0 488.0,665.0 458.0,652.0" fill="#3fd6f4"/><polygon points="458.0,655.0 488.0,668.0 488.0,669.5 458.0,656.5" fill="#8a6ee6"/><ellipse cx="493.2" cy="669.7" rx="1.7" ry="1.4" fill="#8fefff"/><ellipse cx="499.7" cy="666.9" rx="1.7" ry="1.4" fill="#8fefff"/><ellipse cx="506.3" cy="664.1" rx="1.7" ry="1.4" fill="#8fefff"/><ellipse cx="512.8" cy="661.3" rx="1.7" ry="1.4" fill="#8fefff"/><polygon points="460.0,644.5 488.0,657.5 488.0,664.5 460.0,651.5" fill="#7a60d6"/><polygon points="488.0,657.5 516.0,644.5 516.0,651.5 488.0,664.5" fill="#5567e0"/><polygon points="458.0,644.5 488.0,657.5 518.0,644.5 518.0,641.5 488.0,654.5 458.0,641.5" fill="#3fd6f4"/><polygon points="458.0,644.5 488.0,657.5 488.0,659.0 458.0,646.0" fill="#8a6ee6"/><ellipse cx="493.2" cy="659.2" rx="1.7" ry="1.4" fill="#8fefff"/><ellipse cx="499.7" cy="656.4" rx="1.7" ry="1.4" fill="#8fefff"/><ellipse cx="506.3" cy="653.6" rx="1.7" ry="1.4" fill="#8fefff"/><ellipse cx="512.8" cy="650.8" rx="1.7" ry="1.4" fill="#8fefff"/><polygon points="458.0,639.5 488.0,652.5 518.0,639.5 518.0,643.5 488.0,656.5 458.0,643.5" fill="#3ed5f3"/><polygon points="458.0,642.5 488.0,655.5 488.0,657.5 458.0,644.5" fill="#8a6ee6"/><polygon points="488.0,626.5 518.0,639.5 488.0,652.5 458.0,639.5" fill="#46dbf5"/><polygon points="488.0,630.0 510.0,639.5 488.0,649.0 466.0,639.5" fill="none" stroke="#f0fcff" stroke-width="1.8"/><polygon points="488.0,633.5 502.0,639.5 488.0,645.5 474.0,639.5" fill="none" stroke="#f0fcff" stroke-width="1.5"/><polygon points="828.0,656.0 865.0,673.5 828.0,691.0 791.0,673.5" fill="#9fe6f7" fill-opacity="0.35" stroke="#fff" stroke-width="1.6"/><polygon points="800.0,665.5 828.0,678.5 828.0,685.5 800.0,672.5" fill="#7a60d6"/><polygon points="828.0,678.5 856.0,665.5 856.0,672.5 828.0,685.5" fill="#5567e0"/><polygon points="798.0,665.5 828.0,678.5 858.0,665.5 858.0,662.5 828.0,675.5 798.0,662.5" fill="#3fd6f4"/><polygon points="798.0,665.5 828.0,678.5 828.0,680.0 798.0,667.0" fill="#8a6ee6"/><ellipse cx="833.2" cy="680.2" rx="1.7" ry="1.4" fill="#8fefff"/><ellipse cx="839.7" cy="677.4" rx="1.7" ry="1.4" fill="#8fefff"/><ellipse cx="846.3" cy="674.6" rx="1.7" ry="1.4" fill="#8fefff"/><ellipse cx="852.8" cy="671.8" rx="1.7" ry="1.4" fill="#8fefff"/><polygon points="800.0,655.0 828.0,668.0 828.0,675.0 800.0,662.0" fill="#7a60d6"/><polygon points="828.0,668.0 856.0,655.0 856.0,662.0 828.0,675.0" fill="#5567e0"/><polygon points="798.0,655.0 828.0,668.0 858.0,655.0 858.0,652.0 828.0,665.0 798.0,652.0" fill="#3fd6f4"/><polygon points="798.0,655.0 828.0,668.0 828.0,669.5 798.0,656.5" fill="#8a6ee6"/><ellipse cx="833.2" cy="669.7" rx="1.7" ry="1.4" fill="#8fefff"/><ellipse cx="839.7" cy="666.9" rx="1.7" ry="1.4" fill="#8fefff"/><ellipse cx="846.3" cy="664.1" rx="1.7" ry="1.4" fill="#8fefff"/><ellipse cx="852.8" cy="661.3" rx="1.7" ry="1.4" fill="#8fefff"/><polygon points="800.0,644.5 828.0,657.5 828.0,664.5 800.0,651.5" fill="#7a60d6"/><polygon points="828.0,657.5 856.0,644.5 856.0,651.5 828.0,664.5" fill="#5567e0"/><polygon points="798.0,644.5 828.0,657.5 858.0,644.5 858.0,641.5 828.0,654.5 798.0,641.5" fill="#3fd6f4"/><polygon points="798.0,644.5 828.0,657.5 828.0,659.0 798.0,646.0" fill="#8a6ee6"/><ellipse cx="833.2" cy="659.2" rx="1.7" ry="1.4" fill="#8fefff"/><ellipse cx="839.7" cy="656.4" rx="1.7" ry="1.4" fill="#8fefff"/><ellipse cx="846.3" cy="653.6" rx="1.7" ry="1.4" fill="#8fefff"/><ellipse cx="852.8" cy="650.8" rx="1.7" ry="1.4" fill="#8fefff"/><polygon points="798.0,639.5 828.0,652.5 858.0,639.5 858.0,643.5 828.0,656.5 798.0,643.5" fill="#3ed5f3"/><polygon points="798.0,642.5 828.0,655.5 828.0,657.5 798.0,644.5" fill="#8a6ee6"/><polygon points="828.0,626.5 858.0,639.5 828.0,652.5 798.0,639.5" fill="#46dbf5"/><polygon points="828.0,630.0 850.0,639.5 828.0,649.0 806.0,639.5" fill="none" stroke="#f0fcff" stroke-width="1.8"/><polygon points="828.0,633.5 842.0,639.5 828.0,645.5 814.0,639.5" fill="none" stroke="#f0fcff" stroke-width="1.5"/><ellipse cx="591.3" cy="692.0" rx="24" ry="9.5" fill="#5fd8f2" fill-opacity="0.3" stroke="#fff" stroke-width="1.7"/><path d="M572.3,670.0 L572.3,690.0 A19,7 0 0,0 610.3,690.0 L610.3,670.0 Z" fill="url(#cylC)"/><ellipse cx="591.3" cy="670.0" rx="19" ry="7" fill="#56e0f6"/><ellipse cx="591.3" cy="689.0" rx="13" ry="4.5" fill="#7de4f7" opacity="0.7"/><path d="M579.1,653.0 L579.1,671.0 A12.2,4.5 0 0,0 603.5,671.0 L603.5,653.0 Z" fill="url(#cylW)"/><ellipse cx="738.5" cy="692.0" rx="24" ry="9.5" fill="#5fd8f2" fill-opacity="0.3" stroke="#fff" stroke-width="1.7"/><path d="M719.5,670.0 L719.5,690.0 A19,7 0 0,0 757.5,690.0 L757.5,670.0 Z" fill="url(#cylC)"/><ellipse cx="738.5" cy="670.0" rx="19" ry="7" fill="#56e0f6"/><ellipse cx="738.5" cy="689.0" rx="13" ry="4.5" fill="#7de4f7" opacity="0.7"/><path d="M726.3,653.0 L726.3,671.0 A12.2,4.5 0 0,0 750.7,671.0 L750.7,653.0 Z" fill="url(#cylW)"/><polygon points="535.0,694.0 551.0,694.0 553.0,679.0 533.0,679.0" fill="url(#beam)" opacity="0.45"/><polygon points="543.0,689.4 556.5,696.0 543.0,702.6 529.5,696.0" fill="#3ad0f0" stroke="#fff" stroke-width="1.6"/><polygon points="543.0,690.9 551.0,694.8 543.0,698.7 535.0,694.8" fill="#ffffff" opacity="0.96"/><polygon points="651.7,697.0 667.7,697.0 669.7,682.0 649.7,682.0" fill="url(#beam)" opacity="0.45"/><polygon points="659.7,692.4 673.2,699.0 659.7,705.6 646.2,699.0" fill="#3ad0f0" stroke="#fff" stroke-width="1.6"/><polygon points="659.7,693.9 667.7,697.8 659.7,701.7 651.7,697.8" fill="#ffffff" opacity="0.96"/><polygon points="770.0,697.0 786.0,697.0 788.0,682.0 768.0,682.0" fill="url(#beam)" opacity="0.45"/><polygon points="778.0,692.4 791.5,699.0 778.0,705.6 764.5,699.0" fill="#3ad0f0" stroke="#fff" stroke-width="1.6"/><polygon points="778.0,693.9 786.0,697.8 778.0,701.7 770.0,697.8" fill="#ffffff" opacity="0.96"/><polygon points="558.7,705.0 574.7,705.0 576.7,690.0 556.7,690.0" fill="url(#beam)" opacity="0.45"/><polygon points="566.7,700.4 580.2,707.0 566.7,713.6 553.2,707.0" fill="#3ad0f0" stroke="#fff" stroke-width="1.6"/><polygon points="566.7,701.9 574.7,705.8 566.7,709.7 558.7,705.8" fill="#ffffff" opacity="0.96"/><polygon points="744.7,708.0 760.7,708.0 762.7,693.0 742.7,693.0" fill="url(#beam)" opacity="0.45"/><polygon points="752.7,703.4 766.2,710.0 752.7,716.6 739.2,710.0" fill="#3ad0f0" stroke="#fff" stroke-width="1.6"/><polygon points="752.7,704.9 760.7,708.8 752.7,712.7 744.7,708.8" fill="#ffffff" opacity="0.96"/><polygon points="582.3,716.0 598.3,716.0 600.3,701.0 580.3,701.0" fill="url(#beam)" opacity="0.45"/><polygon points="590.3,711.4 603.8,718.0 590.3,724.6 576.8,718.0" fill="#3ad0f0" stroke="#fff" stroke-width="1.6"/><polygon points="590.3,712.9 598.3,716.8 590.3,720.7 582.3,716.8" fill="#ffffff" opacity="0.96"/><polygon points="721.0,719.0 737.0,719.0 739.0,704.0 719.0,704.0" fill="url(#beam)" opacity="0.45"/><polygon points="729.0,714.4 742.5,721.0 729.0,727.6 715.5,721.0" fill="#3ad0f0" stroke="#fff" stroke-width="1.6"/><polygon points="729.0,715.9 737.0,719.8 729.0,723.7 721.0,719.8" fill="#ffffff" opacity="0.96"/><ellipse cx="664.4" cy="753.5" rx="24" ry="9.5" fill="#5fd8f2" fill-opacity="0.3" stroke="#fff" stroke-width="1.7"/><path d="M645.4,731.5 L645.4,751.5 A19,7 0 0,0 683.4,751.5 L683.4,731.5 Z" fill="url(#cylC)"/><ellipse cx="664.4" cy="731.5" rx="19" ry="7" fill="#56e0f6"/><ellipse cx="664.4" cy="750.5" rx="13" ry="4.5" fill="#7de4f7" opacity="0.7"/><path d="M652.2,714.5 L652.2,732.5 A12.2,4.5 0 0,0 676.6,732.5 L676.6,714.5 Z" fill="url(#cylW)"/>
<g transform="translate(496.4,519.1)">
<circle r="55" fill="#fff"/><circle r="53" fill="url(#ring)"/><circle r="45" fill="url(#ringIn)" stroke="#ffffff" stroke-opacity="0.35" stroke-width="1"/>
<g fill="#fff" stroke="#fff" stroke-width="3" stroke-linejoin="round"><path d="M0,-27 L20,-16.7 L0,-5.8 L-20,-16.7Z"/><path d="M-24,-9.3 L-3.5,1.8 L-3.5,23.5 L-24,12 Z"/><path d="M24,-9.3 L3.2,1.8 L3.2,23.5 L24,12 Z"/></g>
</g>
<g transform="translate(807.2,516.5)">
<circle r="55" fill="#fff"/><circle r="53" fill="url(#ring)"/><circle r="45" fill="url(#ringIn)" stroke="#ffffff" stroke-opacity="0.35" stroke-width="1"/>
<g fill="#fff">
<path d="M-20.6,-16.6 Q0,-33.2 20.6,-16.6" fill="none" stroke="#fff" stroke-width="1.5"/>
<path d="M-23.20,-14.20 L-22.37,-19.04 L-18.43,-15.36 Z M23.20,-14.20 L18.43,-15.36 L22.37,-19.04 Z M0.00,-9.60 L-2.50,-12.80 L2.50,-12.80 Z"/>
<line x1="0" y1="-24.4" x2="0" y2="-12" stroke="#fff" stroke-width="1.5"/>
<circle cx="-21.6" cy="-6.8" r="6.3"/><circle cx="21.4" cy="-6.8" r="6.3"/>
<path d="M-31.10,8.30 Q-31.10,-0.70 -21.70,-0.70 Q-12.30,-0.70 -12.30,8.30 L-12.30,8.30 Q-12.30,10.50 -14.50,10.50 L-28.90,10.50 Q-31.10,10.50 -31.10,8.30 Z"/><path d="M11.80,8.30 Q11.80,-0.70 21.20,-0.70 Q30.60,-0.70 30.60,8.30 L30.60,8.30 Q30.60,10.50 28.40,10.50 L14.00,10.50 Q11.80,10.50 11.80,8.30 Z"/>
<circle cx="-0.2" cy="0.4" r="9.1" fill="#8fbde3" opacity="0.6"/>
<path d="M-12.50,20.80 Q-12.50,7.50 -0.25,7.50 Q12.00,7.50 12.00,20.80 L12.00,20.80 Q12.00,23.40 9.40,23.40 L-9.90,23.40 Q-12.50,23.40 -12.50,20.80 Z" fill="#8fbde3" opacity="0.6"/>
<circle cx="-0.2" cy="0.4" r="8.1"/>
<path d="M-11.50,20.20 Q-11.50,8.60 -0.25,8.60 Q11.00,8.60 11.00,20.20 L11.00,20.20 Q11.00,22.40 8.80,22.40 L-9.30,22.40 Q-11.50,22.40 -11.50,20.20 Z"/>
</g>
</g>
<g transform="translate(496.2,869.4)">
<circle r="55" fill="#fff"/><circle r="53" fill="url(#ring)"/><circle r="45" fill="url(#ringIn)" stroke="#ffffff" stroke-opacity="0.35" stroke-width="1"/>
<g transform="translate(0.8,0)">
<circle cx="0" cy="0" r="24" fill="#fff"/>
<circle cx="-1" cy="-1" r="12" fill="none" stroke="#8fc2e2" stroke-width="3"/>
<g transform="translate(-1,-1) rotate(-45)">
<line x1="0" y1="0" x2="18" y2="0" stroke="#8fc2e2" stroke-width="6.5" stroke-linecap="round"/>
<line x1="0" y1="0" x2="18" y2="0" stroke="#fff" stroke-width="3" stroke-linecap="round"/>
<path d="M16,-8 L30,-8 L26.5,0 L30,8 L16,8 Z" fill="#fff" stroke="#8fc2e2" stroke-width="1.6" stroke-linejoin="round"/>
<line x1="14" y1="0" x2="20" y2="0" stroke="#fff" stroke-width="3"/>
</g>
</g>
</g>
<g transform="translate(807.2,866.4)">
<circle r="55" fill="#fff"/><circle r="53" fill="url(#ring)"/><circle r="45" fill="url(#ringIn)" stroke="#ffffff" stroke-opacity="0.35" stroke-width="1"/>
<g fill="#fff" transform="translate(0.8,-0.6)"><circle r="17.4"/><line x1="0.0" y1="-13.0" x2="0.0" y2="-21.6" stroke="#fff" stroke-width="3.6"/><ellipse cx="0.0" cy="-21.6" rx="2.3" ry="3.7" transform="rotate(-90.0 0.0 -21.6)"/><line x1="6.5" y1="-11.3" x2="12.4" y2="-21.4" stroke="#fff" stroke-width="3.6"/><ellipse cx="12.4" cy="-21.4" rx="2.3" ry="3.7" transform="rotate(-60.0 12.4 -21.4)"/><line x1="11.3" y1="-6.5" x2="19.9" y2="-11.5" stroke="#fff" stroke-width="3.6"/><ellipse cx="19.9" cy="-11.5" rx="2.3" ry="3.7" transform="rotate(-30.0 19.9 -11.5)"/><line x1="13.0" y1="0.0" x2="24.2" y2="0.0" stroke="#fff" stroke-width="3.6"/><ellipse cx="24.2" cy="0.0" rx="2.3" ry="3.7" transform="rotate(0.0 24.2 0.0)"/><line x1="11.3" y1="6.5" x2="18.2" y2="10.5" stroke="#fff" stroke-width="3.6"/><ellipse cx="18.2" cy="10.5" rx="2.3" ry="3.7" transform="rotate(30.0 18.2 10.5)"/><line x1="6.5" y1="11.3" x2="11.9" y2="20.5" stroke="#fff" stroke-width="3.6"/><ellipse cx="11.9" cy="20.5" rx="2.3" ry="3.7" transform="rotate(60.0 11.9 20.5)"/><line x1="0.0" y1="13.0" x2="0.0" y2="21.6" stroke="#fff" stroke-width="3.6"/><ellipse cx="0.0" cy="21.6" rx="2.3" ry="3.7" transform="rotate(90.0 0.0 21.6)"/><line x1="-6.5" y1="11.3" x2="-11.6" y2="20.1" stroke="#fff" stroke-width="3.6"/><ellipse cx="-11.6" cy="20.1" rx="2.3" ry="3.7" transform="rotate(120.0 -11.6 20.1)"/><line x1="-11.3" y1="6.5" x2="-18.2" y2="10.5" stroke="#fff" stroke-width="3.6"/><ellipse cx="-18.2" cy="10.5" rx="2.3" ry="3.7" transform="rotate(150.0 -18.2 10.5)"/><line x1="-13.0" y1="0.0" x2="-22.6" y2="0.0" stroke="#fff" stroke-width="3.6"/><ellipse cx="-22.6" cy="0.0" rx="2.3" ry="3.7" transform="rotate(180.0 -22.6 0.0)"/><line x1="-11.3" y1="-6.5" x2="-21.0" y2="-12.1" stroke="#fff" stroke-width="3.6"/><ellipse cx="-21.0" cy="-12.1" rx="2.3" ry="3.7" transform="rotate(210.0 -21.0 -12.1)"/><line x1="-6.5" y1="-11.3" x2="-11.7" y2="-20.3" stroke="#fff" stroke-width="3.6"/><ellipse cx="-11.7" cy="-20.3" rx="2.3" ry="3.7" transform="rotate(240.0 -11.7 -20.3)"/></g><g fill="#8fbde3" transform="translate(0.8,-0.6)"><circle cx="1.8" cy="-3.5" r="3.3"/><circle cx="-6.5" cy="4.3" r="2.2"/><circle cx="8.8" cy="3.3" r="2.2"/><circle cx="-6.5" cy="-6.5" r="1.1"/><circle cx="7.8" cy="-9.5" r="1.1"/><circle cx="1.8" cy="9.3" r="1.1"/></g>
</g>
</svg>
<div class="lbl dev" style="left:574px;top:140px;width:160px">前端采集设备</div>
<div class="lbl dev s" style="left:184.5px;top:336px;width:160px">前端采集设备</div>
<div class="lbl dev s" style="left:968.5px;top:336px;width:160px">前端采集设备</div>
<div class="lbl dev s" style="left:184.5px;top:1000px;width:160px">前端采集设备</div>
<div class="lbl dev s" style="left:968.5px;top:1000px;width:160px">前端采集设备</div>
<div class="lbl dev" style="left:574px;top:1220px;width:160px">前端采集设备</div>
<div class="lbl fn" style="left:438px;top:393px;width:120px">图码联侦<br>立体防控</div>
<div class="lbl fn" style="left:746px;top:393px;width:120px">人员<br>精确管理</div>
<div class="lbl fn" style="left:441px;top:929px;width:120px">精准识别<br>安全隐患</div>
<div class="lbl fn" style="left:746px;top:929px;width:120px">助力<br>疫情防控</div>
<div class="lbl ttl" style="left:524px;top:783.5px;width:260px">复杂区域立体防控<br>体系</div>
</body></html>
